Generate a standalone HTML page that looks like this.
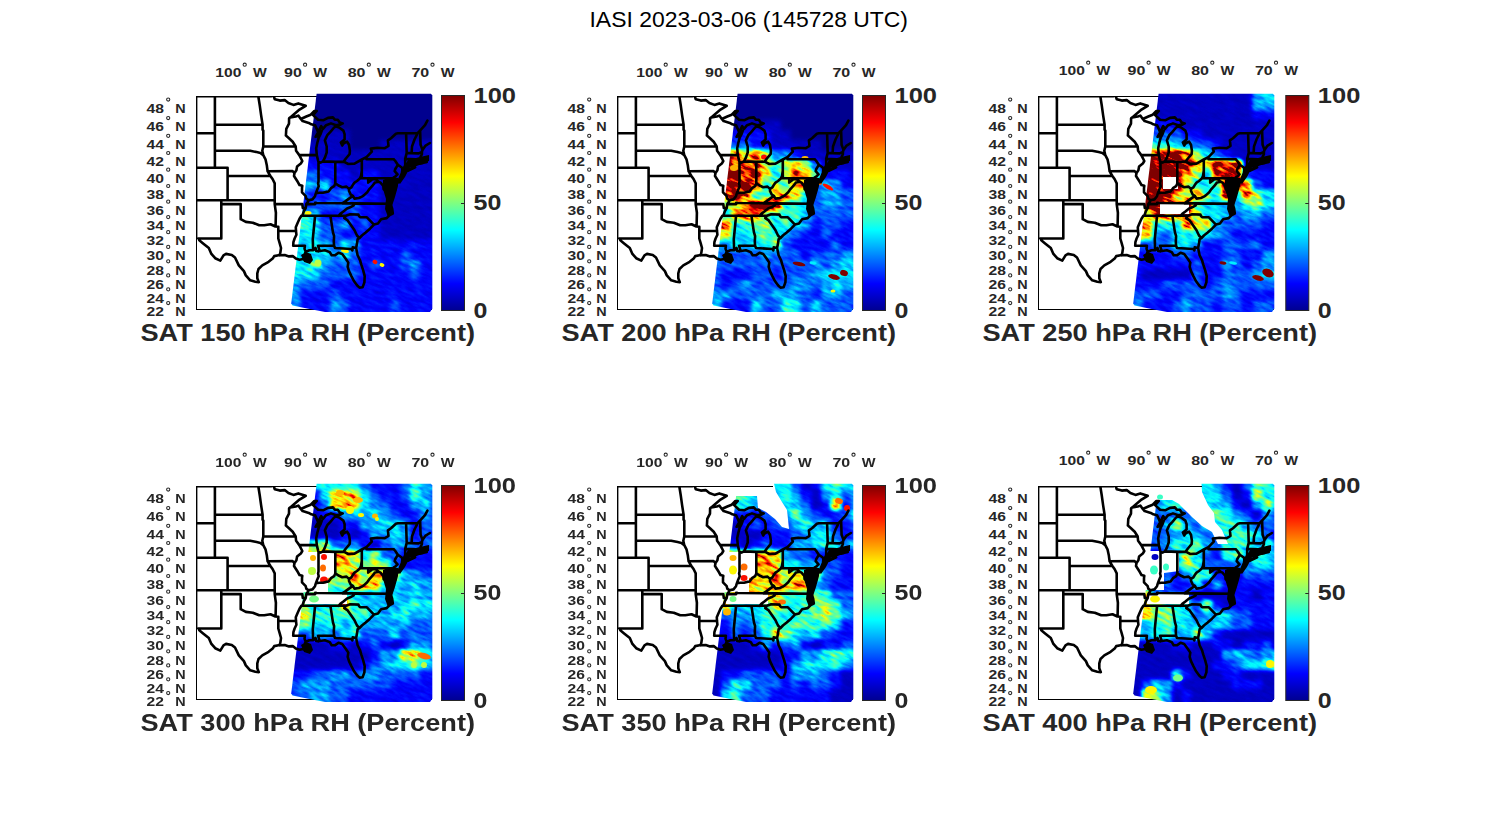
<!DOCTYPE html><html><head><meta charset="utf-8"><style>html,body{margin:0;padding:0;background:#fff;}svg{display:block;}text{font-family:"Liberation Sans",sans-serif;}</style></head><body><svg width="1500" height="825" viewBox="0 0 1500 825"><defs><linearGradient id="jet" x1="0" y1="1" x2="0" y2="0"><stop offset="0" stop-color="#000090"/><stop offset="0.125" stop-color="#0000ff"/><stop offset="0.375" stop-color="#00ffff"/><stop offset="0.625" stop-color="#ffff00"/><stop offset="0.875" stop-color="#ff0000"/><stop offset="1" stop-color="#800000"/></linearGradient><clipPath id="boxclip"><rect x="196.1" y="96.3" width="235.7" height="213"/></clipPath><filter id="jetf" x="0" y="0" width="1" height="1" color-interpolation-filters="sRGB"><feGaussianBlur in="SourceGraphic" stdDeviation="2.2" result="b"/><feTurbulence type="fractalNoise" baseFrequency="0.09 0.3" numOctaves="2" seed="7" result="t"/><feColorMatrix in="t" type="matrix" values="1 0 0 0 0 1 0 0 0 0 1 0 0 0 0 0 0 0 0 1" result="n"/><feComposite in="b" in2="n" operator="arithmetic" k1="0.9" k2="0.55" k3="0" k4="0" result="c"/><feComponentTransfer in="c"><feFuncR type="table" tableValues="0 0 0 0 0 0 0 0 0 0 0 0 0 0 0 0 0 0 0 0.02 0.1 0.18 0.26 0.34 0.42 0.5 0.58 0.66 0.74 0.82 0.9 0.98 1 1 1 1 1 1 1 1 1 1 0.98 0.82 0.66 0.5 0.5 0.5 0.5 0.5 0.5"/><feFuncG type="table" tableValues="0 0 0 0 0 0 0 0.06 0.14 0.22 0.3 0.38 0.46 0.54 0.62 0.7 0.78 0.86 0.94 1 1 1 1 1 1 1 1 1 1 1 1 1 0.94 0.86 0.78 0.7 0.62 0.54 0.46 0.38 0.3 0.14 0 0 0 0 0 0 0 0 0"/><feFuncB type="table" tableValues="0.562 0.633 0.703 0.772 0.843 0.913 0.982 1 1 1 1 1 1 1 1 1 1 1 1 0.98 0.9 0.82 0.74 0.66 0.58 0.5 0.42 0.34 0.26 0.18 0.1 0.02 0 0 0 0 0 0 0 0 0 0 0 0 0 0 0 0 0 0 0"/></feComponentTransfer></filter><filter id="jetd" color-interpolation-filters="sRGB"><feGaussianBlur stdDeviation="0.7"/><feComponentTransfer><feFuncR type="table" tableValues="0 0 0 0 0 0 0 0 0 0 0 0 0 0 0 0 0 0 0 0.02 0.1 0.18 0.26 0.34 0.42 0.5 0.58 0.66 0.74 0.82 0.9 0.98 1 1 1 1 1 1 1 1 1 1 0.98 0.82 0.66 0.5 0.5 0.5 0.5 0.5 0.5"/><feFuncG type="table" tableValues="0 0 0 0 0 0 0 0.06 0.14 0.22 0.3 0.38 0.46 0.54 0.62 0.7 0.78 0.86 0.94 1 1 1 1 1 1 1 1 1 1 1 1 1 0.94 0.86 0.78 0.7 0.62 0.54 0.46 0.38 0.3 0.14 0 0 0 0 0 0 0 0 0"/><feFuncB type="table" tableValues="0.562 0.633 0.703 0.772 0.843 0.913 0.982 1 1 1 1 1 1 1 1 1 1 1 1 0.98 0.9 0.82 0.74 0.66 0.58 0.5 0.42 0.34 0.26 0.18 0.1 0.02 0 0 0 0 0 0 0 0 0 0 0 0 0 0 0 0 0 0 0"/></feComponentTransfer></filter><g id="borders"><path d="M189.7 96.3 271.4 96.3 M271.4 96.3 271.4 94.4 273.6 95.8 274.8 99.2 279.8 100.6 284.7 100.1 288.4 103 293.4 104.9 298.3 103.4 303.2 104.9 305.7 105.8 M305.7 105.8 299.5 109.6 294 114.2 290.3 117.4 M290.3 117.4 295.8 116.5 298.3 115.6 300.8 119 M300.8 119 306.3 116.5 310.7 114.7 314.4 111 316.8 111 313.1 115.1 318.1 119.7 323.6 120.2 328 117.9 332.9 117.4 334.8 119.7 337.8 119.7 339.7 122.5 342.8 123.4 340.3 124.6 336 125.2 331 123.4 326.1 125.2 323 128.8 321.2 126.1 318.1 132.4 M318.1 132.4 316.8 128.8 315 125.2 311.3 124.3 308.8 122.9 302.6 121.1 300.8 119 M318.1 132.4 315.6 136.8 318.1 135.9 321.8 130.6 320.5 134.2 318.7 137.7 317.5 142.1 316.2 148.2 316.8 155.1 M316.8 155.1 318.1 160.6 318.5 161.9 320.5 162.6 323 161.4 M323 161.4 324.9 157.6 326.7 152.5 326.7 146.5 324.9 140.4 327.3 135.1 330.4 131.9 334.1 127.5 336 126.3 339.1 127.5 343.4 130.6 344.6 134.2 344.6 139.5 340.9 142.6 342.2 145.6 344 143 347.1 141.7 349 144.7 349.9 150.8 349.6 154.2 345.9 158.5 343.7 161.6 M343.7 161.6 335.4 161.9 323 161.4 M343.7 161.6 348.3 164 354.5 163.6 361.8 159.5 366.5 157.1 M366.5 157.1 371.8 151.7 370.9 148.6 377.4 147.8 384.8 148.2 388.5 146 387.9 140.4 391 138.2 395.9 133.7 397.8 133.3 417.6 133.2 420 130.6 425 125.2 427.4 120.6 M366.5 157.1 366.5 159.3 393.8 159.3 M361.8 159.5 361.8 178.3 M361.8 178.3 391 178.3 M393.8 159.3 395.3 161 397.8 164.8 395.3 169 394.7 171.1 397.5 174.4 395.3 176.5 393.5 177.7 392.2 179.3 392.5 180.5 393.5 182.2 395.3 185.8 395.6 188.7 M397.8 164.8 402.1 167.8 402.4 170.3 M402.1 171.9 402.1 175.2 401.5 178.1 398.4 181.8 396.2 184.8 396.5 183 392.8 180.1 M404 167.8 405.2 165.2 405.2 158.9 406.7 152.9 406.1 133.2 M405.2 158.9 415.7 159.2 418.3 159.2 M404 167.8 408.9 165.7 414.5 165.2 415.4 165.1 418.2 164 419.9 163.6 M415.4 165.1 415.7 159.2 M418.3 159.2 419.9 163.6 M419.9 163.6 422.5 163.1 426.8 161.9 423.7 161.5 423.1 159.3 420.6 156.8 421.9 154.2 421.9 151.9 M406.7 152.9 411.6 153.1 418.8 153.4 421.9 151.9 M411.6 153.1 412 146.5 414.5 139.5 417.6 133.2 M421.9 151.9 422.5 149.9 420.6 144.7 420.1 130.6 M422.5 149.9 425.6 145.6 429.9 143 M402.1 171.3 408.3 170.7 415.1 167.3 410.8 168.2 404 169 402.1 171.3 M391 178.3 391 188.6 395.6 188.7 M395.6 188.7 394.4 192.3 392.2 195.8 390.1 199.4 390.4 195.4 391 192.3 389.1 189.9 388.5 185.8 389.7 179.7 M389.7 179.7 387.3 182.6 386.7 187.4 387.9 191.9 387.9 195.8 387.6 200.2 389.7 200.8 M387.9 191.9 383.6 189.1 383.3 185.8 380.5 182.6 378.9 181.8 M378.9 181.8 375.5 179.3 372.4 179.3 368.2 182.6 368.2 178.3 M378.9 181.8 374.9 182.6 372.1 186.2 369.4 189.1 367.2 192.3 363.8 195.4 361.9 196.6 358.9 198 354.5 198.6 352.9 195.9 M352.9 195.9 349 198.6 345.3 201.4 342.3 203.3 M352.9 195.9 350.8 194.7 349 190.9 349 188.9 M361.8 170.8 361 176 359.8 178.5 357 181 354.5 182.6 353.3 184.2 351.4 187.4 349 188.9 346.5 186.6 342.2 187.2 339.1 185.8 335.3 183.4 334.1 186.2 331 188.2 328.6 191.5 326.1 191.9 323 192.7 319.3 192.7 315.9 193.1 315 196.2 312.5 199.4 308.4 200.2 M335.3 183.4 335.3 161.9 M318.5 161.9 318.5 181.4 318.1 183.4 318.7 186.2 317.1 189.9 315.9 193.1 M299.3 155.1 302.3 161 300.8 163.6 297.1 166.5 296.4 170.3 294.5 173 294 176 297.7 181.8 299.5 185 302.3 185.8 302 188.2 302 192.3 305.7 196.2 306.3 198.6 308.4 200.2 308.8 200.6 306.3 204.1 305.7 208 303.9 211.1 302.6 215 301.4 215.8 299.5 218.8 297.7 222.7 295.8 227.2 296 231 296.4 234.7 294.6 238.5 293.4 242.2 293.2 245.8 M299.3 155.1 296.1 150.8 295.7 146.5 292.7 141.7 289 138.2 285.9 135.5 M285.9 135.5 286.3 128.8 289 123.6 289.1 118.3 290.3 117.4 M299.3 155.1 316.8 155.1 M263.3 146.5 295.7 146.5 M267.6 171.3 292.6 171.1 294.5 173 M263.3 155.2 265.5 159.3 266.8 165.2 267.6 171.3 270.4 176 272.7 179.3 274.7 183.4 M263.3 146.5 262.3 150.8 263.3 155.2 M214.9 150.8 250.2 150.8 256.6 152.1 260.4 152.9 263.3 155.2 M262.6 124.8 262.6 129.7 263.3 130.6 263.3 146.5 M258.3 96.3 259.8 105.8 261.1 115.1 262.6 124.8 M214.9 124.8 262.6 124.8 M214.9 96.3 214.9 167.8 M189.7 133.3 214.9 133.3 M189.7 167.8 227.6 167.8 227.6 176 270.4 176 M227.6 176 227.6 200.2 M189.7 200.2 274.7 200.2 M221.3 200.2 221.3 238.5 198.5 238.5 M221.3 204.1 240.7 204.1 240.7 219.2 M240.7 219.2 245.8 221.9 252.8 222.7 259.2 225.3 264.3 225.3 270.5 224.2 275.4 226.5 278.3 226.8 M274.7 183.4 274.7 204.1 275.9 212.7 275.6 226.2 M278.3 226.8 278.3 231 296 231 M278.3 231 278.3 238.5 279.8 243.6 281 248 280.4 252.4 279.5 255.3 M274.7 204.1 302.3 204.1 302.8 208 305.7 208 M306.3 204.1 315.2 204.1 315.2 202.7 316.8 203 342.3 203.3 354.7 203.4 390.6 203.7 M301.4 215.8 338.5 215.8 345.9 215.8 M338.5 215.8 340.3 213.9 343.4 211.5 347.1 208.4 350.2 207.3 353.3 205.7 354.7 203.4 M314.4 215.8 315 216.5 312.8 239.2 313.1 250.2 M330.4 215.8 332.9 232.1 334.1 236.2 333.8 241.4 334.1 245.8 M318.1 251.3 319.3 249.9 318.1 245.8 334.1 245.8 M334.1 245.8 335 248 351.4 249 352.4 250.5 352.7 247.3 356.1 248 M345.9 215.8 344.3 218.1 347.7 220.4 351.4 225.7 354.5 230.2 357 235.5 359.5 238.1 M345.9 215.8 350.2 214.2 358.5 214.6 358.9 215.8 360.1 217.2 366.9 217.3 374 224.6 M293.2 245.8 304.9 245.8 304.5 248.8 305.7 251.7 M258.8 282.1 257.3 278.2 257.3 273.3 258.5 269 262.3 265.4 268.6 261.8 273 258.2 274.2 256.1 278.5 255.3 279.5 255.3 284.7 255 289 256.4 292.7 256.1 295.8 258.6 299.5 259.7 303.2 259 307 260.8 308.5 258.2 306.3 256.1 305.1 253.2 305.7 251.7 309.4 250.2 313.1 250.2 315.6 248 316.2 251 318.1 251.3 324.9 250.2 329.8 252.1 331.7 255.3 334.8 255.3 338.5 252.8 342.2 253.9 345.9 259 348.3 262.6 347.7 266.8 349 271.1 351.4 276.1 353.9 281 357 285.2 359.5 287.6 362.6 287.3 364.4 282.4 364.7 276.1 363.2 270.4 361.3 264.7 360.1 260.4 357.6 255.3 356.1 248 357 243.6 357.6 239.2 359.5 238.1 361.9 235.5 365.7 232.5 370 228.7 374 224.6 378 223.4 381.1 219.2 386.7 218.1 389.7 215 392.8 213.5 392.2 208.8 390.6 203.7 389.7 200.8 M198.5 238.5 199.3 240.3 202.5 242.9 208.8 248 211.4 253.9 215.2 258.2 220.3 260.6 223.5 255.3 226 253.9 231.8 255 235 257.5 238.8 265.4 243.9 271.1 245.8 275.4 250.2 280.3 255.3 281.7 258.8 282.1 M196.1 96.3 196.1 238.5" fill="none" stroke="#000" stroke-width="2.6" stroke-linejoin="round" stroke-linecap="round"/><path d="M383 180 L390 177 L398 178 L398 186 L395 197 L392 206 L393 214 L388 217 L385 209 L386 199 L383 189 Z M397 181 L402 170 L408 160 L420 157 L429 155 L429 161 L418 163 L410 167 L405 177 L400 184 Z M301 255 L306 252 L311 254 L313 260 L310 264 L304 262 Z" fill="#000"/></g></defs><text x="589.5" y="26.8" font-size="22" fill="#000" textLength="318.5" lengthAdjust="spacingAndGlyphs">IASI 2023-03-06 (145728 UTC)</text><g transform="translate(0,0)"><rect x="196.5" y="96.5" width="235" height="213" fill="none" stroke="#000" stroke-width="1"/><clipPath id="sw0"><path d="M316.6 93.8 L431 93.8 L432.3 95.5 L432.3 308.5 L430 311.9 L325 311.9 L301 307.3 L292.5 305.6 L291.2 303.5 Z"/></clipPath><g clip-path="url(#sw0)"><g transform="rotate(24 360 200)" filter="url(#jetf)"><g transform="rotate(-24 360 200)"><rect x="280" y="80" width="170" height="20" fill="#000000"/><rect x="280" y="100" width="170" height="10" fill="#000000"/><rect x="280" y="110" width="170" height="10" fill="#000000"/><rect x="280" y="120" width="170" height="10" fill="#000000"/><rect x="280" y="130" width="40" height="10" fill="#000000"/><rect x="320" y="130" width="30" height="10" fill="#0f0f0f"/><rect x="350" y="130" width="100" height="10" fill="#000000"/><rect x="280" y="140" width="70" height="10" fill="#0f0f0f"/><rect x="350" y="140" width="30" height="10" fill="#000000"/><rect x="380" y="140" width="70" height="10" fill="#0f0f0f"/><rect x="280" y="150" width="170" height="10" fill="#0f0f0f"/><rect x="280" y="160" width="60" height="10" fill="#212121"/><rect x="340" y="160" width="110" height="10" fill="#0f0f0f"/><rect x="280" y="170" width="40" height="10" fill="#363636"/><rect x="320" y="170" width="30" height="10" fill="#212121"/><rect x="350" y="170" width="10" height="10" fill="#0f0f0f"/><rect x="360" y="170" width="20" height="10" fill="#212121"/><rect x="380" y="170" width="70" height="10" fill="#0f0f0f"/><rect x="280" y="180" width="40" height="10" fill="#4a4a4a"/><rect x="320" y="180" width="10" height="10" fill="#5c5c5c"/><rect x="330" y="180" width="50" height="10" fill="#212121"/><rect x="380" y="180" width="70" height="10" fill="#0f0f0f"/><rect x="280" y="190" width="30" height="10" fill="#363636"/><rect x="310" y="190" width="20" height="10" fill="#212121"/><rect x="330" y="190" width="10" height="10" fill="#363636"/><rect x="340" y="190" width="10" height="10" fill="#4a4a4a"/><rect x="350" y="190" width="30" height="10" fill="#212121"/><rect x="380" y="190" width="70" height="10" fill="#0f0f0f"/><rect x="280" y="200" width="30" height="10" fill="#212121"/><rect x="310" y="200" width="50" height="10" fill="#363636"/><rect x="360" y="200" width="20" height="10" fill="#212121"/><rect x="380" y="200" width="70" height="10" fill="#0f0f0f"/><rect x="280" y="210" width="30" height="10" fill="#6e6e6e"/><rect x="310" y="210" width="10" height="10" fill="#4a4a4a"/><rect x="320" y="210" width="30" height="10" fill="#212121"/><rect x="350" y="210" width="10" height="10" fill="#363636"/><rect x="360" y="210" width="20" height="10" fill="#212121"/><rect x="380" y="210" width="70" height="10" fill="#0f0f0f"/><rect x="280" y="220" width="30" height="10" fill="#6e6e6e"/><rect x="310" y="220" width="10" height="10" fill="#5c5c5c"/><rect x="320" y="220" width="20" height="10" fill="#363636"/><rect x="340" y="220" width="10" height="10" fill="#4a4a4a"/><rect x="350" y="220" width="10" height="10" fill="#212121"/><rect x="360" y="220" width="10" height="10" fill="#363636"/><rect x="370" y="220" width="10" height="10" fill="#212121"/><rect x="380" y="220" width="70" height="10" fill="#0f0f0f"/><rect x="280" y="230" width="40" height="10" fill="#5c5c5c"/><rect x="320" y="230" width="20" height="10" fill="#363636"/><rect x="340" y="230" width="40" height="10" fill="#212121"/><rect x="380" y="230" width="70" height="10" fill="#0f0f0f"/><rect x="280" y="240" width="40" height="10" fill="#5c5c5c"/><rect x="320" y="240" width="10" height="10" fill="#4a4a4a"/><rect x="330" y="240" width="10" height="10" fill="#363636"/><rect x="340" y="240" width="10" height="10" fill="#5c5c5c"/><rect x="350" y="240" width="10" height="10" fill="#4a4a4a"/><rect x="360" y="240" width="90" height="10" fill="#212121"/><rect x="280" y="250" width="50" height="10" fill="#5c5c5c"/><rect x="330" y="250" width="10" height="10" fill="#4a4a4a"/><rect x="340" y="250" width="10" height="10" fill="#5c5c5c"/><rect x="350" y="250" width="10" height="10" fill="#363636"/><rect x="360" y="250" width="40" height="10" fill="#212121"/><rect x="400" y="250" width="10" height="10" fill="#363636"/><rect x="410" y="250" width="40" height="10" fill="#212121"/><rect x="280" y="260" width="30" height="10" fill="#5c5c5c"/><rect x="310" y="260" width="10" height="10" fill="#7d7d7d"/><rect x="320" y="260" width="10" height="10" fill="#4a4a4a"/><rect x="330" y="260" width="30" height="10" fill="#363636"/><rect x="360" y="260" width="10" height="10" fill="#212121"/><rect x="370" y="260" width="10" height="10" fill="#363636"/><rect x="380" y="260" width="20" height="10" fill="#212121"/><rect x="400" y="260" width="10" height="10" fill="#363636"/><rect x="410" y="260" width="10" height="10" fill="#4a4a4a"/><rect x="420" y="260" width="30" height="10" fill="#212121"/><rect x="280" y="270" width="40" height="10" fill="#5c5c5c"/><rect x="320" y="270" width="40" height="10" fill="#363636"/><rect x="360" y="270" width="50" height="10" fill="#212121"/><rect x="410" y="270" width="10" height="10" fill="#363636"/><rect x="420" y="270" width="30" height="10" fill="#212121"/><rect x="280" y="280" width="20" height="10" fill="#4a4a4a"/><rect x="300" y="280" width="30" height="10" fill="#363636"/><rect x="330" y="280" width="120" height="10" fill="#212121"/><rect x="280" y="290" width="20" height="10" fill="#4a4a4a"/><rect x="300" y="290" width="30" height="10" fill="#212121"/><rect x="330" y="290" width="10" height="10" fill="#363636"/><rect x="340" y="290" width="110" height="10" fill="#212121"/><rect x="280" y="300" width="20" height="10" fill="#4a4a4a"/><rect x="300" y="300" width="30" height="10" fill="#212121"/><rect x="330" y="300" width="10" height="10" fill="#4a4a4a"/><rect x="340" y="300" width="10" height="10" fill="#363636"/><rect x="350" y="300" width="40" height="10" fill="#212121"/><rect x="390" y="300" width="10" height="10" fill="#363636"/><rect x="400" y="300" width="50" height="10" fill="#212121"/><rect x="280" y="310" width="20" height="20" fill="#4a4a4a"/><rect x="300" y="310" width="30" height="20" fill="#212121"/><rect x="330" y="310" width="10" height="20" fill="#4a4a4a"/><rect x="340" y="310" width="10" height="20" fill="#363636"/><rect x="350" y="310" width="40" height="20" fill="#212121"/><rect x="390" y="310" width="10" height="20" fill="#363636"/><rect x="400" y="310" width="50" height="20" fill="#212121"/></g></g></g><g clip-path="url(#sw0)"><g filter="url(#jetd)"><ellipse cx="375" cy="262" rx="2.5" ry="2" fill="#d4d4d4" transform="rotate(20 375 262)"/><ellipse cx="382" cy="265" rx="2.5" ry="1.8" fill="#a1a1a1" transform="rotate(20 382 265)"/><ellipse cx="318" cy="263" rx="3.5" ry="3.5" fill="#8f8f8f"/><ellipse cx="308" cy="213" rx="3.5" ry="2" fill="#a1a1a1"/><ellipse cx="345" cy="251" rx="4" ry="1.8" fill="#a1a1a1" transform="rotate(10 345 251)"/></g></g><g clip-path="url(#boxclip)"><use href="#borders"/></g><text x="241.4" y="77" font-size="13.6" font-weight="bold" fill="#262626" text-anchor="end" textLength="26.1" lengthAdjust="spacingAndGlyphs">100</text><circle cx="244.7" cy="64.7" r="1.6" fill="none" stroke="#262626" stroke-width="1.05"/><text x="252.9" y="77" font-size="13.6" font-weight="bold" fill="#262626" textLength="13.8" lengthAdjust="spacingAndGlyphs">W</text><text x="301.8" y="77" font-size="13.6" font-weight="bold" fill="#262626" text-anchor="end" textLength="17.8" lengthAdjust="spacingAndGlyphs">90</text><circle cx="305.1" cy="64.7" r="1.6" fill="none" stroke="#262626" stroke-width="1.05"/><text x="313.3" y="77" font-size="13.6" font-weight="bold" fill="#262626" textLength="13.8" lengthAdjust="spacingAndGlyphs">W</text><text x="365.5" y="77" font-size="13.6" font-weight="bold" fill="#262626" text-anchor="end" textLength="17.8" lengthAdjust="spacingAndGlyphs">80</text><circle cx="368.8" cy="64.7" r="1.6" fill="none" stroke="#262626" stroke-width="1.05"/><text x="377" y="77" font-size="13.6" font-weight="bold" fill="#262626" textLength="13.8" lengthAdjust="spacingAndGlyphs">W</text><text x="429.2" y="77" font-size="13.6" font-weight="bold" fill="#262626" text-anchor="end" textLength="17.8" lengthAdjust="spacingAndGlyphs">70</text><circle cx="432.5" cy="64.7" r="1.6" fill="none" stroke="#262626" stroke-width="1.05"/><text x="440.7" y="77" font-size="13.6" font-weight="bold" fill="#262626" textLength="13.8" lengthAdjust="spacingAndGlyphs">W</text><text x="164" y="112.7" font-size="13.2" font-weight="bold" fill="#262626" text-anchor="end" textLength="17.4" lengthAdjust="spacingAndGlyphs">48</text><circle cx="168.2" cy="99.5" r="1.6" fill="none" stroke="#262626" stroke-width="1.05"/><text x="175.3" y="112.7" font-size="13.2" font-weight="bold" fill="#262626" textLength="10.4" lengthAdjust="spacingAndGlyphs">N</text><text x="164" y="131.2" font-size="13.2" font-weight="bold" fill="#262626" text-anchor="end" textLength="17.4" lengthAdjust="spacingAndGlyphs">46</text><circle cx="168.2" cy="118" r="1.6" fill="none" stroke="#262626" stroke-width="1.05"/><text x="175.3" y="131.2" font-size="13.2" font-weight="bold" fill="#262626" textLength="10.4" lengthAdjust="spacingAndGlyphs">N</text><text x="164" y="149" font-size="13.2" font-weight="bold" fill="#262626" text-anchor="end" textLength="17.4" lengthAdjust="spacingAndGlyphs">44</text><circle cx="168.2" cy="135.8" r="1.6" fill="none" stroke="#262626" stroke-width="1.05"/><text x="175.3" y="149" font-size="13.2" font-weight="bold" fill="#262626" textLength="10.4" lengthAdjust="spacingAndGlyphs">N</text><text x="164" y="166.2" font-size="13.2" font-weight="bold" fill="#262626" text-anchor="end" textLength="17.4" lengthAdjust="spacingAndGlyphs">42</text><circle cx="168.2" cy="153" r="1.6" fill="none" stroke="#262626" stroke-width="1.05"/><text x="175.3" y="166.2" font-size="13.2" font-weight="bold" fill="#262626" textLength="10.4" lengthAdjust="spacingAndGlyphs">N</text><text x="164" y="182.9" font-size="13.2" font-weight="bold" fill="#262626" text-anchor="end" textLength="17.4" lengthAdjust="spacingAndGlyphs">40</text><circle cx="168.2" cy="169.7" r="1.6" fill="none" stroke="#262626" stroke-width="1.05"/><text x="175.3" y="182.9" font-size="13.2" font-weight="bold" fill="#262626" textLength="10.4" lengthAdjust="spacingAndGlyphs">N</text><text x="164" y="199.2" font-size="13.2" font-weight="bold" fill="#262626" text-anchor="end" textLength="17.4" lengthAdjust="spacingAndGlyphs">38</text><circle cx="168.2" cy="186" r="1.6" fill="none" stroke="#262626" stroke-width="1.05"/><text x="175.3" y="199.2" font-size="13.2" font-weight="bold" fill="#262626" textLength="10.4" lengthAdjust="spacingAndGlyphs">N</text><text x="164" y="214.9" font-size="13.2" font-weight="bold" fill="#262626" text-anchor="end" textLength="17.4" lengthAdjust="spacingAndGlyphs">36</text><circle cx="168.2" cy="201.7" r="1.6" fill="none" stroke="#262626" stroke-width="1.05"/><text x="175.3" y="214.9" font-size="13.2" font-weight="bold" fill="#262626" textLength="10.4" lengthAdjust="spacingAndGlyphs">N</text><text x="164" y="230.3" font-size="13.2" font-weight="bold" fill="#262626" text-anchor="end" textLength="17.4" lengthAdjust="spacingAndGlyphs">34</text><circle cx="168.2" cy="217.1" r="1.6" fill="none" stroke="#262626" stroke-width="1.05"/><text x="175.3" y="230.3" font-size="13.2" font-weight="bold" fill="#262626" textLength="10.4" lengthAdjust="spacingAndGlyphs">N</text><text x="164" y="245.4" font-size="13.2" font-weight="bold" fill="#262626" text-anchor="end" textLength="17.4" lengthAdjust="spacingAndGlyphs">32</text><circle cx="168.2" cy="232.2" r="1.6" fill="none" stroke="#262626" stroke-width="1.05"/><text x="175.3" y="245.4" font-size="13.2" font-weight="bold" fill="#262626" textLength="10.4" lengthAdjust="spacingAndGlyphs">N</text><text x="164" y="260.1" font-size="13.2" font-weight="bold" fill="#262626" text-anchor="end" textLength="17.4" lengthAdjust="spacingAndGlyphs">30</text><circle cx="168.2" cy="246.9" r="1.6" fill="none" stroke="#262626" stroke-width="1.05"/><text x="175.3" y="260.1" font-size="13.2" font-weight="bold" fill="#262626" textLength="10.4" lengthAdjust="spacingAndGlyphs">N</text><text x="164" y="274.5" font-size="13.2" font-weight="bold" fill="#262626" text-anchor="end" textLength="17.4" lengthAdjust="spacingAndGlyphs">28</text><circle cx="168.2" cy="261.3" r="1.6" fill="none" stroke="#262626" stroke-width="1.05"/><text x="175.3" y="274.5" font-size="13.2" font-weight="bold" fill="#262626" textLength="10.4" lengthAdjust="spacingAndGlyphs">N</text><text x="164" y="288.6" font-size="13.2" font-weight="bold" fill="#262626" text-anchor="end" textLength="17.4" lengthAdjust="spacingAndGlyphs">26</text><circle cx="168.2" cy="275.4" r="1.6" fill="none" stroke="#262626" stroke-width="1.05"/><text x="175.3" y="288.6" font-size="13.2" font-weight="bold" fill="#262626" textLength="10.4" lengthAdjust="spacingAndGlyphs">N</text><text x="164" y="302.5" font-size="13.2" font-weight="bold" fill="#262626" text-anchor="end" textLength="17.4" lengthAdjust="spacingAndGlyphs">24</text><circle cx="168.2" cy="289.3" r="1.6" fill="none" stroke="#262626" stroke-width="1.05"/><text x="175.3" y="302.5" font-size="13.2" font-weight="bold" fill="#262626" textLength="10.4" lengthAdjust="spacingAndGlyphs">N</text><text x="164" y="316.2" font-size="13.2" font-weight="bold" fill="#262626" text-anchor="end" textLength="17.4" lengthAdjust="spacingAndGlyphs">22</text><circle cx="168.2" cy="303" r="1.6" fill="none" stroke="#262626" stroke-width="1.05"/><text x="175.3" y="316.2" font-size="13.2" font-weight="bold" fill="#262626" textLength="10.4" lengthAdjust="spacingAndGlyphs">N</text><g transform="translate(0,0)"><rect x="441.5" y="95.5" width="23" height="215" fill="url(#jet)" stroke="#262626" stroke-width="1"/><line x1="461" y1="95.5" x2="464.5" y2="95.5" stroke="#262626" stroke-width="1"/><line x1="461" y1="203.5" x2="464.5" y2="203.5" stroke="#262626" stroke-width="1"/><line x1="461" y1="310.5" x2="464.5" y2="310.5" stroke="#262626" stroke-width="1"/><text x="473.5" y="102.9" font-size="21.5" font-weight="bold" fill="#262626" textLength="42.5" lengthAdjust="spacingAndGlyphs">100</text><text x="473.5" y="210.2" font-size="21.5" font-weight="bold" fill="#262626" textLength="27.8" lengthAdjust="spacingAndGlyphs">50</text><text x="473.5" y="318" font-size="21.5" font-weight="bold" fill="#262626" textLength="13.9" lengthAdjust="spacingAndGlyphs">0</text></g><text x="140.5" y="340.9" font-size="23.5" font-weight="bold" fill="#262626" textLength="334.5" lengthAdjust="spacingAndGlyphs">SAT 150 hPa RH (Percent)</text></g><g transform="translate(421,0)"><rect x="196.5" y="96.5" width="235" height="213" fill="none" stroke="#000" stroke-width="1"/><clipPath id="sw1"><path d="M316.6 93.8 L431 93.8 L432.3 95.5 L432.3 308.5 L430 311.9 L325 311.9 L301 307.3 L292.5 305.6 L291.2 303.5 Z"/></clipPath><g clip-path="url(#sw1)"><g transform="rotate(24 360 200)" filter="url(#jetf)"><g transform="rotate(-24 360 200)"><rect x="280" y="80" width="170" height="20" fill="#000000"/><rect x="280" y="100" width="170" height="10" fill="#000000"/><rect x="280" y="110" width="170" height="10" fill="#000000"/><rect x="280" y="120" width="40" height="10" fill="#000000"/><rect x="320" y="120" width="40" height="10" fill="#0f0f0f"/><rect x="360" y="120" width="90" height="10" fill="#000000"/><rect x="280" y="130" width="70" height="10" fill="#212121"/><rect x="350" y="130" width="20" height="10" fill="#0f0f0f"/><rect x="370" y="130" width="80" height="10" fill="#000000"/><rect x="280" y="140" width="50" height="10" fill="#363636"/><rect x="330" y="140" width="20" height="10" fill="#212121"/><rect x="350" y="140" width="50" height="10" fill="#0f0f0f"/><rect x="400" y="140" width="50" height="10" fill="#000000"/><rect x="280" y="150" width="40" height="10" fill="#c4c4c4"/><rect x="320" y="150" width="10" height="10" fill="#a1a1a1"/><rect x="330" y="150" width="10" height="10" fill="#d4d4d4"/><rect x="340" y="150" width="10" height="10" fill="#8f8f8f"/><rect x="350" y="150" width="20" height="10" fill="#4a4a4a"/><rect x="370" y="150" width="10" height="10" fill="#212121"/><rect x="380" y="150" width="70" height="10" fill="#0f0f0f"/><rect x="280" y="160" width="30" height="10" fill="#ffffff"/><rect x="310" y="160" width="30" height="10" fill="#d4d4d4"/><rect x="340" y="160" width="10" height="10" fill="#a1a1a1"/><rect x="350" y="160" width="10" height="10" fill="#6e6e6e"/><rect x="360" y="160" width="10" height="10" fill="#8f8f8f"/><rect x="370" y="160" width="10" height="10" fill="#b2b2b2"/><rect x="380" y="160" width="10" height="10" fill="#8f8f8f"/><rect x="390" y="160" width="10" height="10" fill="#363636"/><rect x="400" y="160" width="50" height="10" fill="#0f0f0f"/><rect x="280" y="170" width="40" height="10" fill="#ffffff"/><rect x="320" y="170" width="10" height="10" fill="#d4d4d4"/><rect x="330" y="170" width="10" height="10" fill="#ffffff"/><rect x="340" y="170" width="10" height="10" fill="#a1a1a1"/><rect x="350" y="170" width="10" height="10" fill="#5c5c5c"/><rect x="360" y="170" width="10" height="10" fill="#8f8f8f"/><rect x="370" y="170" width="10" height="10" fill="#d4d4d4"/><rect x="380" y="170" width="10" height="10" fill="#c4c4c4"/><rect x="390" y="170" width="10" height="10" fill="#6e6e6e"/><rect x="400" y="170" width="30" height="10" fill="#212121"/><rect x="430" y="170" width="20" height="10" fill="#0f0f0f"/><rect x="280" y="180" width="30" height="10" fill="#d4d4d4"/><rect x="310" y="180" width="20" height="10" fill="#ffffff"/><rect x="330" y="180" width="10" height="10" fill="#d4d4d4"/><rect x="340" y="180" width="10" height="10" fill="#6e6e6e"/><rect x="350" y="180" width="10" height="10" fill="#8f8f8f"/><rect x="360" y="180" width="10" height="10" fill="#6e6e6e"/><rect x="370" y="180" width="10" height="10" fill="#b2b2b2"/><rect x="380" y="180" width="10" height="10" fill="#d4d4d4"/><rect x="390" y="180" width="10" height="10" fill="#363636"/><rect x="400" y="180" width="20" height="10" fill="#4a4a4a"/><rect x="420" y="180" width="30" height="10" fill="#212121"/><rect x="280" y="190" width="30" height="10" fill="#d4d4d4"/><rect x="310" y="190" width="10" height="10" fill="#ffffff"/><rect x="320" y="190" width="10" height="10" fill="#d4d4d4"/><rect x="330" y="190" width="20" height="10" fill="#6e6e6e"/><rect x="350" y="190" width="10" height="10" fill="#b2b2b2"/><rect x="360" y="190" width="10" height="10" fill="#c4c4c4"/><rect x="370" y="190" width="10" height="10" fill="#a1a1a1"/><rect x="380" y="190" width="10" height="10" fill="#5c5c5c"/><rect x="390" y="190" width="10" height="10" fill="#363636"/><rect x="400" y="190" width="20" height="10" fill="#4a4a4a"/><rect x="420" y="190" width="30" height="10" fill="#363636"/><rect x="280" y="200" width="30" height="10" fill="#7d7d7d"/><rect x="310" y="200" width="10" height="10" fill="#a1a1a1"/><rect x="320" y="200" width="10" height="10" fill="#c4c4c4"/><rect x="330" y="200" width="30" height="10" fill="#ffffff"/><rect x="360" y="200" width="20" height="10" fill="#6e6e6e"/><rect x="380" y="200" width="10" height="10" fill="#5c5c5c"/><rect x="390" y="200" width="10" height="10" fill="#363636"/><rect x="400" y="200" width="20" height="10" fill="#4a4a4a"/><rect x="420" y="200" width="30" height="10" fill="#363636"/><rect x="280" y="210" width="30" height="10" fill="#5c5c5c"/><rect x="310" y="210" width="10" height="10" fill="#b2b2b2"/><rect x="320" y="210" width="20" height="10" fill="#d4d4d4"/><rect x="340" y="210" width="10" height="10" fill="#7d7d7d"/><rect x="350" y="210" width="30" height="10" fill="#6e6e6e"/><rect x="380" y="210" width="10" height="10" fill="#4a4a4a"/><rect x="390" y="210" width="60" height="10" fill="#363636"/><rect x="280" y="220" width="30" height="10" fill="#d4d4d4"/><rect x="310" y="220" width="10" height="10" fill="#5c5c5c"/><rect x="320" y="220" width="10" height="10" fill="#6e6e6e"/><rect x="330" y="220" width="10" height="10" fill="#7d7d7d"/><rect x="340" y="220" width="10" height="10" fill="#8f8f8f"/><rect x="350" y="220" width="10" height="10" fill="#5c5c5c"/><rect x="360" y="220" width="10" height="10" fill="#6e6e6e"/><rect x="370" y="220" width="10" height="10" fill="#5c5c5c"/><rect x="380" y="220" width="10" height="10" fill="#4a4a4a"/><rect x="390" y="220" width="10" height="10" fill="#212121"/><rect x="400" y="220" width="20" height="10" fill="#363636"/><rect x="420" y="220" width="30" height="10" fill="#212121"/><rect x="280" y="230" width="30" height="10" fill="#a1a1a1"/><rect x="310" y="230" width="20" height="10" fill="#5c5c5c"/><rect x="330" y="230" width="10" height="10" fill="#6e6e6e"/><rect x="340" y="230" width="10" height="10" fill="#7d7d7d"/><rect x="350" y="230" width="10" height="10" fill="#5c5c5c"/><rect x="360" y="230" width="10" height="10" fill="#4a4a4a"/><rect x="370" y="230" width="10" height="10" fill="#363636"/><rect x="380" y="230" width="20" height="10" fill="#212121"/><rect x="400" y="230" width="10" height="10" fill="#363636"/><rect x="410" y="230" width="40" height="10" fill="#212121"/><rect x="280" y="240" width="30" height="10" fill="#4a4a4a"/><rect x="310" y="240" width="10" height="10" fill="#5c5c5c"/><rect x="320" y="240" width="10" height="10" fill="#4a4a4a"/><rect x="330" y="240" width="20" height="10" fill="#5c5c5c"/><rect x="350" y="240" width="10" height="10" fill="#8f8f8f"/><rect x="360" y="240" width="10" height="10" fill="#363636"/><rect x="370" y="240" width="40" height="10" fill="#212121"/><rect x="410" y="240" width="10" height="10" fill="#363636"/><rect x="420" y="240" width="30" height="10" fill="#212121"/><rect x="280" y="250" width="20" height="10" fill="#4a4a4a"/><rect x="300" y="250" width="40" height="10" fill="#363636"/><rect x="340" y="250" width="10" height="10" fill="#4a4a4a"/><rect x="350" y="250" width="30" height="10" fill="#363636"/><rect x="380" y="250" width="10" height="10" fill="#212121"/><rect x="390" y="250" width="30" height="10" fill="#363636"/><rect x="420" y="250" width="30" height="10" fill="#4a4a4a"/><rect x="280" y="260" width="110" height="10" fill="#363636"/><rect x="390" y="260" width="10" height="10" fill="#4a4a4a"/><rect x="400" y="260" width="10" height="10" fill="#363636"/><rect x="410" y="260" width="10" height="10" fill="#4a4a4a"/><rect x="420" y="260" width="30" height="10" fill="#5c5c5c"/><rect x="280" y="270" width="20" height="10" fill="#363636"/><rect x="300" y="270" width="30" height="10" fill="#212121"/><rect x="330" y="270" width="20" height="10" fill="#363636"/><rect x="350" y="270" width="10" height="10" fill="#212121"/><rect x="360" y="270" width="30" height="10" fill="#363636"/><rect x="390" y="270" width="10" height="10" fill="#4a4a4a"/><rect x="400" y="270" width="50" height="10" fill="#5c5c5c"/><rect x="280" y="280" width="20" height="10" fill="#363636"/><rect x="300" y="280" width="10" height="10" fill="#212121"/><rect x="310" y="280" width="10" height="10" fill="#363636"/><rect x="320" y="280" width="10" height="10" fill="#4a4a4a"/><rect x="330" y="280" width="40" height="10" fill="#363636"/><rect x="370" y="280" width="20" height="10" fill="#4a4a4a"/><rect x="390" y="280" width="10" height="10" fill="#363636"/><rect x="400" y="280" width="10" height="10" fill="#4a4a4a"/><rect x="410" y="280" width="10" height="10" fill="#5c5c5c"/><rect x="420" y="280" width="30" height="10" fill="#4a4a4a"/><rect x="280" y="290" width="30" height="10" fill="#4a4a4a"/><rect x="310" y="290" width="40" height="10" fill="#363636"/><rect x="350" y="290" width="30" height="10" fill="#4a4a4a"/><rect x="380" y="290" width="10" height="10" fill="#363636"/><rect x="390" y="290" width="10" height="10" fill="#212121"/><rect x="400" y="290" width="20" height="10" fill="#4a4a4a"/><rect x="420" y="290" width="30" height="10" fill="#363636"/><rect x="280" y="300" width="20" height="10" fill="#5c5c5c"/><rect x="300" y="300" width="30" height="10" fill="#212121"/><rect x="330" y="300" width="10" height="10" fill="#5c5c5c"/><rect x="340" y="300" width="20" height="10" fill="#363636"/><rect x="360" y="300" width="10" height="10" fill="#6e6e6e"/><rect x="370" y="300" width="10" height="10" fill="#5c5c5c"/><rect x="380" y="300" width="10" height="10" fill="#363636"/><rect x="390" y="300" width="10" height="10" fill="#5c5c5c"/><rect x="400" y="300" width="50" height="10" fill="#363636"/><rect x="280" y="310" width="20" height="20" fill="#5c5c5c"/><rect x="300" y="310" width="30" height="20" fill="#212121"/><rect x="330" y="310" width="10" height="20" fill="#5c5c5c"/><rect x="340" y="310" width="20" height="20" fill="#363636"/><rect x="360" y="310" width="10" height="20" fill="#6e6e6e"/><rect x="370" y="310" width="10" height="20" fill="#5c5c5c"/><rect x="380" y="310" width="10" height="20" fill="#363636"/><rect x="390" y="310" width="10" height="20" fill="#5c5c5c"/><rect x="400" y="310" width="50" height="20" fill="#363636"/></g></g></g><g clip-path="url(#sw1)"><g filter="url(#jetd)"><ellipse cx="378" cy="264" rx="6.5" ry="2" fill="#ffffff" transform="rotate(10 378 264)"/><ellipse cx="392" cy="263" rx="3.5" ry="1.5" fill="#5c5c5c" transform="rotate(10 392 263)"/><ellipse cx="423" cy="273" rx="4" ry="3" fill="#ffffff" transform="rotate(20 423 273)"/><ellipse cx="413" cy="277" rx="6" ry="2.5" fill="#ffffff" transform="rotate(15 413 277)"/><ellipse cx="412" cy="291" rx="2.5" ry="1.5" fill="#a1a1a1"/><ellipse cx="313" cy="168" rx="4" ry="3" fill="#b2b2b2"/><ellipse cx="343" cy="157" rx="3" ry="2.5" fill="#d4d4d4"/><ellipse cx="384" cy="158" rx="3.5" ry="2" fill="#b2b2b2"/><ellipse cx="407" cy="187" rx="6" ry="2" fill="#d4d4d4" transform="rotate(30 407 187)"/><ellipse cx="398" cy="183" rx="3" ry="2" fill="#c4c4c4"/></g></g><g clip-path="url(#boxclip)"><use href="#borders"/></g><text x="241.4" y="77" font-size="13.6" font-weight="bold" fill="#262626" text-anchor="end" textLength="26.1" lengthAdjust="spacingAndGlyphs">100</text><circle cx="244.7" cy="64.7" r="1.6" fill="none" stroke="#262626" stroke-width="1.05"/><text x="252.9" y="77" font-size="13.6" font-weight="bold" fill="#262626" textLength="13.8" lengthAdjust="spacingAndGlyphs">W</text><text x="301.8" y="77" font-size="13.6" font-weight="bold" fill="#262626" text-anchor="end" textLength="17.8" lengthAdjust="spacingAndGlyphs">90</text><circle cx="305.1" cy="64.7" r="1.6" fill="none" stroke="#262626" stroke-width="1.05"/><text x="313.3" y="77" font-size="13.6" font-weight="bold" fill="#262626" textLength="13.8" lengthAdjust="spacingAndGlyphs">W</text><text x="365.5" y="77" font-size="13.6" font-weight="bold" fill="#262626" text-anchor="end" textLength="17.8" lengthAdjust="spacingAndGlyphs">80</text><circle cx="368.8" cy="64.7" r="1.6" fill="none" stroke="#262626" stroke-width="1.05"/><text x="377" y="77" font-size="13.6" font-weight="bold" fill="#262626" textLength="13.8" lengthAdjust="spacingAndGlyphs">W</text><text x="429.2" y="77" font-size="13.6" font-weight="bold" fill="#262626" text-anchor="end" textLength="17.8" lengthAdjust="spacingAndGlyphs">70</text><circle cx="432.5" cy="64.7" r="1.6" fill="none" stroke="#262626" stroke-width="1.05"/><text x="440.7" y="77" font-size="13.6" font-weight="bold" fill="#262626" textLength="13.8" lengthAdjust="spacingAndGlyphs">W</text><text x="164" y="112.7" font-size="13.2" font-weight="bold" fill="#262626" text-anchor="end" textLength="17.4" lengthAdjust="spacingAndGlyphs">48</text><circle cx="168.2" cy="99.5" r="1.6" fill="none" stroke="#262626" stroke-width="1.05"/><text x="175.3" y="112.7" font-size="13.2" font-weight="bold" fill="#262626" textLength="10.4" lengthAdjust="spacingAndGlyphs">N</text><text x="164" y="131.2" font-size="13.2" font-weight="bold" fill="#262626" text-anchor="end" textLength="17.4" lengthAdjust="spacingAndGlyphs">46</text><circle cx="168.2" cy="118" r="1.6" fill="none" stroke="#262626" stroke-width="1.05"/><text x="175.3" y="131.2" font-size="13.2" font-weight="bold" fill="#262626" textLength="10.4" lengthAdjust="spacingAndGlyphs">N</text><text x="164" y="149" font-size="13.2" font-weight="bold" fill="#262626" text-anchor="end" textLength="17.4" lengthAdjust="spacingAndGlyphs">44</text><circle cx="168.2" cy="135.8" r="1.6" fill="none" stroke="#262626" stroke-width="1.05"/><text x="175.3" y="149" font-size="13.2" font-weight="bold" fill="#262626" textLength="10.4" lengthAdjust="spacingAndGlyphs">N</text><text x="164" y="166.2" font-size="13.2" font-weight="bold" fill="#262626" text-anchor="end" textLength="17.4" lengthAdjust="spacingAndGlyphs">42</text><circle cx="168.2" cy="153" r="1.6" fill="none" stroke="#262626" stroke-width="1.05"/><text x="175.3" y="166.2" font-size="13.2" font-weight="bold" fill="#262626" textLength="10.4" lengthAdjust="spacingAndGlyphs">N</text><text x="164" y="182.9" font-size="13.2" font-weight="bold" fill="#262626" text-anchor="end" textLength="17.4" lengthAdjust="spacingAndGlyphs">40</text><circle cx="168.2" cy="169.7" r="1.6" fill="none" stroke="#262626" stroke-width="1.05"/><text x="175.3" y="182.9" font-size="13.2" font-weight="bold" fill="#262626" textLength="10.4" lengthAdjust="spacingAndGlyphs">N</text><text x="164" y="199.2" font-size="13.2" font-weight="bold" fill="#262626" text-anchor="end" textLength="17.4" lengthAdjust="spacingAndGlyphs">38</text><circle cx="168.2" cy="186" r="1.6" fill="none" stroke="#262626" stroke-width="1.05"/><text x="175.3" y="199.2" font-size="13.2" font-weight="bold" fill="#262626" textLength="10.4" lengthAdjust="spacingAndGlyphs">N</text><text x="164" y="214.9" font-size="13.2" font-weight="bold" fill="#262626" text-anchor="end" textLength="17.4" lengthAdjust="spacingAndGlyphs">36</text><circle cx="168.2" cy="201.7" r="1.6" fill="none" stroke="#262626" stroke-width="1.05"/><text x="175.3" y="214.9" font-size="13.2" font-weight="bold" fill="#262626" textLength="10.4" lengthAdjust="spacingAndGlyphs">N</text><text x="164" y="230.3" font-size="13.2" font-weight="bold" fill="#262626" text-anchor="end" textLength="17.4" lengthAdjust="spacingAndGlyphs">34</text><circle cx="168.2" cy="217.1" r="1.6" fill="none" stroke="#262626" stroke-width="1.05"/><text x="175.3" y="230.3" font-size="13.2" font-weight="bold" fill="#262626" textLength="10.4" lengthAdjust="spacingAndGlyphs">N</text><text x="164" y="245.4" font-size="13.2" font-weight="bold" fill="#262626" text-anchor="end" textLength="17.4" lengthAdjust="spacingAndGlyphs">32</text><circle cx="168.2" cy="232.2" r="1.6" fill="none" stroke="#262626" stroke-width="1.05"/><text x="175.3" y="245.4" font-size="13.2" font-weight="bold" fill="#262626" textLength="10.4" lengthAdjust="spacingAndGlyphs">N</text><text x="164" y="260.1" font-size="13.2" font-weight="bold" fill="#262626" text-anchor="end" textLength="17.4" lengthAdjust="spacingAndGlyphs">30</text><circle cx="168.2" cy="246.9" r="1.6" fill="none" stroke="#262626" stroke-width="1.05"/><text x="175.3" y="260.1" font-size="13.2" font-weight="bold" fill="#262626" textLength="10.4" lengthAdjust="spacingAndGlyphs">N</text><text x="164" y="274.5" font-size="13.2" font-weight="bold" fill="#262626" text-anchor="end" textLength="17.4" lengthAdjust="spacingAndGlyphs">28</text><circle cx="168.2" cy="261.3" r="1.6" fill="none" stroke="#262626" stroke-width="1.05"/><text x="175.3" y="274.5" font-size="13.2" font-weight="bold" fill="#262626" textLength="10.4" lengthAdjust="spacingAndGlyphs">N</text><text x="164" y="288.6" font-size="13.2" font-weight="bold" fill="#262626" text-anchor="end" textLength="17.4" lengthAdjust="spacingAndGlyphs">26</text><circle cx="168.2" cy="275.4" r="1.6" fill="none" stroke="#262626" stroke-width="1.05"/><text x="175.3" y="288.6" font-size="13.2" font-weight="bold" fill="#262626" textLength="10.4" lengthAdjust="spacingAndGlyphs">N</text><text x="164" y="302.5" font-size="13.2" font-weight="bold" fill="#262626" text-anchor="end" textLength="17.4" lengthAdjust="spacingAndGlyphs">24</text><circle cx="168.2" cy="289.3" r="1.6" fill="none" stroke="#262626" stroke-width="1.05"/><text x="175.3" y="302.5" font-size="13.2" font-weight="bold" fill="#262626" textLength="10.4" lengthAdjust="spacingAndGlyphs">N</text><text x="164" y="316.2" font-size="13.2" font-weight="bold" fill="#262626" text-anchor="end" textLength="17.4" lengthAdjust="spacingAndGlyphs">22</text><circle cx="168.2" cy="303" r="1.6" fill="none" stroke="#262626" stroke-width="1.05"/><text x="175.3" y="316.2" font-size="13.2" font-weight="bold" fill="#262626" textLength="10.4" lengthAdjust="spacingAndGlyphs">N</text><g transform="translate(0,0)"><rect x="441.5" y="95.5" width="23" height="215" fill="url(#jet)" stroke="#262626" stroke-width="1"/><line x1="461" y1="95.5" x2="464.5" y2="95.5" stroke="#262626" stroke-width="1"/><line x1="461" y1="203.5" x2="464.5" y2="203.5" stroke="#262626" stroke-width="1"/><line x1="461" y1="310.5" x2="464.5" y2="310.5" stroke="#262626" stroke-width="1"/><text x="473.5" y="102.9" font-size="21.5" font-weight="bold" fill="#262626" textLength="42.5" lengthAdjust="spacingAndGlyphs">100</text><text x="473.5" y="210.2" font-size="21.5" font-weight="bold" fill="#262626" textLength="27.8" lengthAdjust="spacingAndGlyphs">50</text><text x="473.5" y="318" font-size="21.5" font-weight="bold" fill="#262626" textLength="13.9" lengthAdjust="spacingAndGlyphs">0</text></g><text x="140.5" y="340.9" font-size="23.5" font-weight="bold" fill="#262626" textLength="334.5" lengthAdjust="spacingAndGlyphs">SAT 200 hPa RH (Percent)</text></g><g transform="translate(842,0)"><rect x="196.5" y="96.5" width="235" height="213" fill="none" stroke="#000" stroke-width="1"/><clipPath id="sw2"><path d="M316.6 93.8 L431 93.8 L432.3 95.5 L432.3 308.5 L430 311.9 L325 311.9 L301 307.3 L292.5 305.6 L291.2 303.5 Z"/></clipPath><g clip-path="url(#sw2)"><g transform="rotate(24 360 200)" filter="url(#jetf)"><g transform="rotate(-24 360 200)"><rect x="280" y="80" width="130" height="20" fill="#0f0f0f"/><rect x="410" y="80" width="10" height="20" fill="#4a4a4a"/><rect x="420" y="80" width="30" height="20" fill="#5c5c5c"/><rect x="280" y="100" width="130" height="10" fill="#0f0f0f"/><rect x="410" y="100" width="40" height="10" fill="#4a4a4a"/><rect x="280" y="110" width="130" height="10" fill="#0f0f0f"/><rect x="410" y="110" width="40" height="10" fill="#212121"/><rect x="280" y="120" width="60" height="10" fill="#212121"/><rect x="340" y="120" width="110" height="10" fill="#0f0f0f"/><rect x="280" y="130" width="60" height="10" fill="#363636"/><rect x="340" y="130" width="20" height="10" fill="#212121"/><rect x="360" y="130" width="90" height="10" fill="#0f0f0f"/><rect x="280" y="140" width="40" height="10" fill="#6e6e6e"/><rect x="320" y="140" width="20" height="10" fill="#5c5c5c"/><rect x="340" y="140" width="10" height="10" fill="#4a4a4a"/><rect x="350" y="140" width="20" height="10" fill="#363636"/><rect x="370" y="140" width="10" height="10" fill="#212121"/><rect x="380" y="140" width="70" height="10" fill="#0f0f0f"/><rect x="280" y="150" width="40" height="10" fill="#d4d4d4"/><rect x="320" y="150" width="20" height="10" fill="#ffffff"/><rect x="340" y="150" width="10" height="10" fill="#d4d4d4"/><rect x="350" y="150" width="10" height="10" fill="#a1a1a1"/><rect x="360" y="150" width="10" height="10" fill="#5c5c5c"/><rect x="370" y="150" width="10" height="10" fill="#363636"/><rect x="380" y="150" width="10" height="10" fill="#212121"/><rect x="390" y="150" width="60" height="10" fill="#0f0f0f"/><rect x="280" y="160" width="70" height="10" fill="#ffffff"/><rect x="350" y="160" width="10" height="10" fill="#b2b2b2"/><rect x="360" y="160" width="10" height="10" fill="#a1a1a1"/><rect x="370" y="160" width="10" height="10" fill="#ffffff"/><rect x="380" y="160" width="10" height="10" fill="#d4d4d4"/><rect x="390" y="160" width="10" height="10" fill="#ffffff"/><rect x="400" y="160" width="50" height="10" fill="#0f0f0f"/><rect x="280" y="170" width="60" height="10" fill="#ffffff"/><rect x="340" y="170" width="10" height="10" fill="#b2b2b2"/><rect x="350" y="170" width="10" height="10" fill="#8f8f8f"/><rect x="360" y="170" width="10" height="10" fill="#4a4a4a"/><rect x="370" y="170" width="10" height="10" fill="#d4d4d4"/><rect x="380" y="170" width="10" height="10" fill="#ffffff"/><rect x="390" y="170" width="10" height="10" fill="#d4d4d4"/><rect x="400" y="170" width="10" height="10" fill="#363636"/><rect x="410" y="170" width="40" height="10" fill="#212121"/><rect x="280" y="180" width="60" height="10" fill="#ffffff"/><rect x="340" y="180" width="10" height="10" fill="#a1a1a1"/><rect x="350" y="180" width="20" height="10" fill="#5c5c5c"/><rect x="370" y="180" width="10" height="10" fill="#6e6e6e"/><rect x="380" y="180" width="20" height="10" fill="#ffffff"/><rect x="400" y="180" width="10" height="10" fill="#b2b2b2"/><rect x="410" y="180" width="10" height="10" fill="#363636"/><rect x="420" y="180" width="30" height="10" fill="#212121"/><rect x="280" y="190" width="50" height="10" fill="#ffffff"/><rect x="330" y="190" width="10" height="10" fill="#b2b2b2"/><rect x="340" y="190" width="10" height="10" fill="#8f8f8f"/><rect x="350" y="190" width="10" height="10" fill="#c4c4c4"/><rect x="360" y="190" width="10" height="10" fill="#7d7d7d"/><rect x="370" y="190" width="10" height="10" fill="#5c5c5c"/><rect x="380" y="190" width="10" height="10" fill="#ffffff"/><rect x="390" y="190" width="10" height="10" fill="#5c5c5c"/><rect x="400" y="190" width="10" height="10" fill="#d4d4d4"/><rect x="410" y="190" width="10" height="10" fill="#8f8f8f"/><rect x="420" y="190" width="30" height="10" fill="#5c5c5c"/><rect x="280" y="200" width="50" height="10" fill="#ffffff"/><rect x="330" y="200" width="10" height="10" fill="#c4c4c4"/><rect x="340" y="200" width="10" height="10" fill="#ffffff"/><rect x="350" y="200" width="10" height="10" fill="#6e6e6e"/><rect x="360" y="200" width="20" height="10" fill="#5c5c5c"/><rect x="380" y="200" width="20" height="10" fill="#4a4a4a"/><rect x="400" y="200" width="10" height="10" fill="#6e6e6e"/><rect x="410" y="200" width="10" height="10" fill="#8f8f8f"/><rect x="420" y="200" width="30" height="10" fill="#5c5c5c"/><rect x="280" y="210" width="30" height="10" fill="#8f8f8f"/><rect x="310" y="210" width="40" height="10" fill="#d4d4d4"/><rect x="350" y="210" width="10" height="10" fill="#a1a1a1"/><rect x="360" y="210" width="20" height="10" fill="#5c5c5c"/><rect x="380" y="210" width="10" height="10" fill="#4a4a4a"/><rect x="390" y="210" width="10" height="10" fill="#363636"/><rect x="400" y="210" width="20" height="10" fill="#4a4a4a"/><rect x="420" y="210" width="30" height="10" fill="#363636"/><rect x="280" y="220" width="30" height="10" fill="#c4c4c4"/><rect x="310" y="220" width="10" height="10" fill="#5c5c5c"/><rect x="320" y="220" width="10" height="10" fill="#6e6e6e"/><rect x="330" y="220" width="10" height="10" fill="#5c5c5c"/><rect x="340" y="220" width="10" height="10" fill="#d4d4d4"/><rect x="350" y="220" width="20" height="10" fill="#a1a1a1"/><rect x="370" y="220" width="10" height="10" fill="#4a4a4a"/><rect x="380" y="220" width="40" height="10" fill="#363636"/><rect x="420" y="220" width="30" height="10" fill="#212121"/><rect x="280" y="230" width="30" height="10" fill="#b2b2b2"/><rect x="310" y="230" width="10" height="10" fill="#4a4a4a"/><rect x="320" y="230" width="10" height="10" fill="#363636"/><rect x="330" y="230" width="40" height="10" fill="#5c5c5c"/><rect x="370" y="230" width="10" height="10" fill="#4a4a4a"/><rect x="380" y="230" width="10" height="10" fill="#363636"/><rect x="390" y="230" width="60" height="10" fill="#212121"/><rect x="280" y="240" width="50" height="10" fill="#363636"/><rect x="330" y="240" width="20" height="10" fill="#5c5c5c"/><rect x="350" y="240" width="10" height="10" fill="#4a4a4a"/><rect x="360" y="240" width="20" height="10" fill="#212121"/><rect x="380" y="240" width="40" height="10" fill="#363636"/><rect x="420" y="240" width="30" height="10" fill="#212121"/><rect x="280" y="250" width="50" height="10" fill="#212121"/><rect x="330" y="250" width="20" height="10" fill="#363636"/><rect x="350" y="250" width="30" height="10" fill="#212121"/><rect x="380" y="250" width="20" height="10" fill="#363636"/><rect x="400" y="250" width="20" height="10" fill="#212121"/><rect x="420" y="250" width="30" height="10" fill="#4a4a4a"/><rect x="280" y="260" width="70" height="10" fill="#212121"/><rect x="350" y="260" width="10" height="10" fill="#363636"/><rect x="360" y="260" width="20" height="10" fill="#212121"/><rect x="380" y="260" width="10" height="10" fill="#4a4a4a"/><rect x="390" y="260" width="10" height="10" fill="#363636"/><rect x="400" y="260" width="10" height="10" fill="#212121"/><rect x="410" y="260" width="10" height="10" fill="#363636"/><rect x="420" y="260" width="30" height="10" fill="#4a4a4a"/><rect x="280" y="270" width="20" height="10" fill="#212121"/><rect x="300" y="270" width="50" height="10" fill="#0f0f0f"/><rect x="350" y="270" width="10" height="10" fill="#363636"/><rect x="360" y="270" width="20" height="10" fill="#212121"/><rect x="380" y="270" width="30" height="10" fill="#363636"/><rect x="410" y="270" width="10" height="10" fill="#4a4a4a"/><rect x="420" y="270" width="30" height="10" fill="#5c5c5c"/><rect x="280" y="280" width="40" height="10" fill="#212121"/><rect x="320" y="280" width="40" height="10" fill="#363636"/><rect x="360" y="280" width="10" height="10" fill="#212121"/><rect x="370" y="280" width="10" height="10" fill="#363636"/><rect x="380" y="280" width="10" height="10" fill="#4a4a4a"/><rect x="390" y="280" width="60" height="10" fill="#363636"/><rect x="280" y="290" width="40" height="10" fill="#363636"/><rect x="320" y="290" width="20" height="10" fill="#212121"/><rect x="340" y="290" width="40" height="10" fill="#363636"/><rect x="380" y="290" width="10" height="10" fill="#4a4a4a"/><rect x="390" y="290" width="10" height="10" fill="#363636"/><rect x="400" y="290" width="50" height="10" fill="#212121"/><rect x="280" y="300" width="20" height="10" fill="#4a4a4a"/><rect x="300" y="300" width="30" height="10" fill="#212121"/><rect x="330" y="300" width="10" height="10" fill="#363636"/><rect x="340" y="300" width="10" height="10" fill="#4a4a4a"/><rect x="350" y="300" width="20" height="10" fill="#363636"/><rect x="370" y="300" width="10" height="10" fill="#212121"/><rect x="380" y="300" width="20" height="10" fill="#363636"/><rect x="400" y="300" width="10" height="10" fill="#212121"/><rect x="410" y="300" width="40" height="10" fill="#363636"/><rect x="280" y="310" width="20" height="20" fill="#4a4a4a"/><rect x="300" y="310" width="30" height="20" fill="#212121"/><rect x="330" y="310" width="10" height="20" fill="#363636"/><rect x="340" y="310" width="10" height="20" fill="#4a4a4a"/><rect x="350" y="310" width="20" height="20" fill="#363636"/><rect x="370" y="310" width="10" height="20" fill="#212121"/><rect x="380" y="310" width="20" height="20" fill="#363636"/><rect x="400" y="310" width="10" height="20" fill="#212121"/><rect x="410" y="310" width="40" height="20" fill="#363636"/></g></g></g><path d="M321 177 L336 177 L336 189 L321 189 Z" fill="#fff"/><path d="M318 204 L347 204 L347 214 L318 214 Z" fill="#fff"/><g clip-path="url(#sw2)"><g filter="url(#jetd)"><ellipse cx="381" cy="263" rx="3.5" ry="1.5" fill="#ffffff" transform="rotate(10 381 263)"/><ellipse cx="391" cy="263" rx="4" ry="1.5" fill="#5c5c5c" transform="rotate(10 391 263)"/><ellipse cx="426" cy="273" rx="6" ry="4" fill="#ffffff" transform="rotate(25 426 273)"/><ellipse cx="416" cy="278" rx="6" ry="2.5" fill="#ffffff" transform="rotate(15 416 278)"/></g></g><g clip-path="url(#boxclip)"><use href="#borders"/></g><text x="242.9" y="75" font-size="13.6" font-weight="bold" fill="#262626" text-anchor="end" textLength="26.1" lengthAdjust="spacingAndGlyphs">100</text><circle cx="246.2" cy="62.7" r="1.6" fill="none" stroke="#262626" stroke-width="1.05"/><text x="254.4" y="75" font-size="13.6" font-weight="bold" fill="#262626" textLength="13.8" lengthAdjust="spacingAndGlyphs">W</text><text x="303.3" y="75" font-size="13.6" font-weight="bold" fill="#262626" text-anchor="end" textLength="17.8" lengthAdjust="spacingAndGlyphs">90</text><circle cx="306.6" cy="62.7" r="1.6" fill="none" stroke="#262626" stroke-width="1.05"/><text x="314.8" y="75" font-size="13.6" font-weight="bold" fill="#262626" textLength="13.8" lengthAdjust="spacingAndGlyphs">W</text><text x="367" y="75" font-size="13.6" font-weight="bold" fill="#262626" text-anchor="end" textLength="17.8" lengthAdjust="spacingAndGlyphs">80</text><circle cx="370.3" cy="62.7" r="1.6" fill="none" stroke="#262626" stroke-width="1.05"/><text x="378.5" y="75" font-size="13.6" font-weight="bold" fill="#262626" textLength="13.8" lengthAdjust="spacingAndGlyphs">W</text><text x="430.7" y="75" font-size="13.6" font-weight="bold" fill="#262626" text-anchor="end" textLength="17.8" lengthAdjust="spacingAndGlyphs">70</text><circle cx="434" cy="62.7" r="1.6" fill="none" stroke="#262626" stroke-width="1.05"/><text x="442.2" y="75" font-size="13.6" font-weight="bold" fill="#262626" textLength="13.8" lengthAdjust="spacingAndGlyphs">W</text><text x="164" y="112.7" font-size="13.2" font-weight="bold" fill="#262626" text-anchor="end" textLength="17.4" lengthAdjust="spacingAndGlyphs">48</text><circle cx="168.2" cy="99.5" r="1.6" fill="none" stroke="#262626" stroke-width="1.05"/><text x="175.3" y="112.7" font-size="13.2" font-weight="bold" fill="#262626" textLength="10.4" lengthAdjust="spacingAndGlyphs">N</text><text x="164" y="131.2" font-size="13.2" font-weight="bold" fill="#262626" text-anchor="end" textLength="17.4" lengthAdjust="spacingAndGlyphs">46</text><circle cx="168.2" cy="118" r="1.6" fill="none" stroke="#262626" stroke-width="1.05"/><text x="175.3" y="131.2" font-size="13.2" font-weight="bold" fill="#262626" textLength="10.4" lengthAdjust="spacingAndGlyphs">N</text><text x="164" y="149" font-size="13.2" font-weight="bold" fill="#262626" text-anchor="end" textLength="17.4" lengthAdjust="spacingAndGlyphs">44</text><circle cx="168.2" cy="135.8" r="1.6" fill="none" stroke="#262626" stroke-width="1.05"/><text x="175.3" y="149" font-size="13.2" font-weight="bold" fill="#262626" textLength="10.4" lengthAdjust="spacingAndGlyphs">N</text><text x="164" y="166.2" font-size="13.2" font-weight="bold" fill="#262626" text-anchor="end" textLength="17.4" lengthAdjust="spacingAndGlyphs">42</text><circle cx="168.2" cy="153" r="1.6" fill="none" stroke="#262626" stroke-width="1.05"/><text x="175.3" y="166.2" font-size="13.2" font-weight="bold" fill="#262626" textLength="10.4" lengthAdjust="spacingAndGlyphs">N</text><text x="164" y="182.9" font-size="13.2" font-weight="bold" fill="#262626" text-anchor="end" textLength="17.4" lengthAdjust="spacingAndGlyphs">40</text><circle cx="168.2" cy="169.7" r="1.6" fill="none" stroke="#262626" stroke-width="1.05"/><text x="175.3" y="182.9" font-size="13.2" font-weight="bold" fill="#262626" textLength="10.4" lengthAdjust="spacingAndGlyphs">N</text><text x="164" y="199.2" font-size="13.2" font-weight="bold" fill="#262626" text-anchor="end" textLength="17.4" lengthAdjust="spacingAndGlyphs">38</text><circle cx="168.2" cy="186" r="1.6" fill="none" stroke="#262626" stroke-width="1.05"/><text x="175.3" y="199.2" font-size="13.2" font-weight="bold" fill="#262626" textLength="10.4" lengthAdjust="spacingAndGlyphs">N</text><text x="164" y="214.9" font-size="13.2" font-weight="bold" fill="#262626" text-anchor="end" textLength="17.4" lengthAdjust="spacingAndGlyphs">36</text><circle cx="168.2" cy="201.7" r="1.6" fill="none" stroke="#262626" stroke-width="1.05"/><text x="175.3" y="214.9" font-size="13.2" font-weight="bold" fill="#262626" textLength="10.4" lengthAdjust="spacingAndGlyphs">N</text><text x="164" y="230.3" font-size="13.2" font-weight="bold" fill="#262626" text-anchor="end" textLength="17.4" lengthAdjust="spacingAndGlyphs">34</text><circle cx="168.2" cy="217.1" r="1.6" fill="none" stroke="#262626" stroke-width="1.05"/><text x="175.3" y="230.3" font-size="13.2" font-weight="bold" fill="#262626" textLength="10.4" lengthAdjust="spacingAndGlyphs">N</text><text x="164" y="245.4" font-size="13.2" font-weight="bold" fill="#262626" text-anchor="end" textLength="17.4" lengthAdjust="spacingAndGlyphs">32</text><circle cx="168.2" cy="232.2" r="1.6" fill="none" stroke="#262626" stroke-width="1.05"/><text x="175.3" y="245.4" font-size="13.2" font-weight="bold" fill="#262626" textLength="10.4" lengthAdjust="spacingAndGlyphs">N</text><text x="164" y="260.1" font-size="13.2" font-weight="bold" fill="#262626" text-anchor="end" textLength="17.4" lengthAdjust="spacingAndGlyphs">30</text><circle cx="168.2" cy="246.9" r="1.6" fill="none" stroke="#262626" stroke-width="1.05"/><text x="175.3" y="260.1" font-size="13.2" font-weight="bold" fill="#262626" textLength="10.4" lengthAdjust="spacingAndGlyphs">N</text><text x="164" y="274.5" font-size="13.2" font-weight="bold" fill="#262626" text-anchor="end" textLength="17.4" lengthAdjust="spacingAndGlyphs">28</text><circle cx="168.2" cy="261.3" r="1.6" fill="none" stroke="#262626" stroke-width="1.05"/><text x="175.3" y="274.5" font-size="13.2" font-weight="bold" fill="#262626" textLength="10.4" lengthAdjust="spacingAndGlyphs">N</text><text x="164" y="288.6" font-size="13.2" font-weight="bold" fill="#262626" text-anchor="end" textLength="17.4" lengthAdjust="spacingAndGlyphs">26</text><circle cx="168.2" cy="275.4" r="1.6" fill="none" stroke="#262626" stroke-width="1.05"/><text x="175.3" y="288.6" font-size="13.2" font-weight="bold" fill="#262626" textLength="10.4" lengthAdjust="spacingAndGlyphs">N</text><text x="164" y="302.5" font-size="13.2" font-weight="bold" fill="#262626" text-anchor="end" textLength="17.4" lengthAdjust="spacingAndGlyphs">24</text><circle cx="168.2" cy="289.3" r="1.6" fill="none" stroke="#262626" stroke-width="1.05"/><text x="175.3" y="302.5" font-size="13.2" font-weight="bold" fill="#262626" textLength="10.4" lengthAdjust="spacingAndGlyphs">N</text><text x="164" y="316.2" font-size="13.2" font-weight="bold" fill="#262626" text-anchor="end" textLength="17.4" lengthAdjust="spacingAndGlyphs">22</text><circle cx="168.2" cy="303" r="1.6" fill="none" stroke="#262626" stroke-width="1.05"/><text x="175.3" y="316.2" font-size="13.2" font-weight="bold" fill="#262626" textLength="10.4" lengthAdjust="spacingAndGlyphs">N</text><g transform="translate(2.3,0)"><rect x="441.5" y="95.5" width="23" height="215" fill="url(#jet)" stroke="#262626" stroke-width="1"/><line x1="461" y1="95.5" x2="464.5" y2="95.5" stroke="#262626" stroke-width="1"/><line x1="461" y1="203.5" x2="464.5" y2="203.5" stroke="#262626" stroke-width="1"/><line x1="461" y1="310.5" x2="464.5" y2="310.5" stroke="#262626" stroke-width="1"/><text x="473.5" y="102.9" font-size="21.5" font-weight="bold" fill="#262626" textLength="42.5" lengthAdjust="spacingAndGlyphs">100</text><text x="473.5" y="210.2" font-size="21.5" font-weight="bold" fill="#262626" textLength="27.8" lengthAdjust="spacingAndGlyphs">50</text><text x="473.5" y="318" font-size="21.5" font-weight="bold" fill="#262626" textLength="13.9" lengthAdjust="spacingAndGlyphs">0</text></g><text x="140.5" y="340.9" font-size="23.5" font-weight="bold" fill="#262626" textLength="334.5" lengthAdjust="spacingAndGlyphs">SAT 250 hPa RH (Percent)</text></g><g transform="translate(0,390)"><rect x="196.5" y="96.5" width="235" height="213" fill="none" stroke="#000" stroke-width="1"/><clipPath id="sw3"><path d="M316.6 93.8 L431 93.8 L432.3 95.5 L432.3 308.5 L430 311.9 L325 311.9 L301 307.3 L292.5 305.6 L291.2 303.5 Z"/></clipPath><g clip-path="url(#sw3)"><g transform="rotate(24 360 200)" filter="url(#jetf)"><g transform="rotate(-24 360 200)"><rect x="280" y="80" width="80" height="20" fill="#5c5c5c"/><rect x="360" y="80" width="10" height="20" fill="#363636"/><rect x="370" y="80" width="30" height="20" fill="#212121"/><rect x="400" y="80" width="10" height="20" fill="#363636"/><rect x="410" y="80" width="10" height="20" fill="#6e6e6e"/><rect x="420" y="80" width="30" height="20" fill="#4a4a4a"/><rect x="280" y="100" width="40" height="10" fill="#212121"/><rect x="320" y="100" width="10" height="10" fill="#5c5c5c"/><rect x="330" y="100" width="30" height="10" fill="#b2b2b2"/><rect x="360" y="100" width="10" height="10" fill="#5c5c5c"/><rect x="370" y="100" width="10" height="10" fill="#363636"/><rect x="380" y="100" width="20" height="10" fill="#212121"/><rect x="400" y="100" width="10" height="10" fill="#363636"/><rect x="410" y="100" width="10" height="10" fill="#6e6e6e"/><rect x="420" y="100" width="10" height="10" fill="#4a4a4a"/><rect x="430" y="100" width="20" height="10" fill="#363636"/><rect x="280" y="110" width="40" height="10" fill="#212121"/><rect x="320" y="110" width="10" height="10" fill="#363636"/><rect x="330" y="110" width="30" height="10" fill="#b2b2b2"/><rect x="360" y="110" width="10" height="10" fill="#5c5c5c"/><rect x="370" y="110" width="10" height="10" fill="#4a4a4a"/><rect x="380" y="110" width="10" height="10" fill="#363636"/><rect x="390" y="110" width="20" height="10" fill="#212121"/><rect x="410" y="110" width="10" height="10" fill="#4a4a4a"/><rect x="420" y="110" width="10" height="10" fill="#5c5c5c"/><rect x="430" y="110" width="20" height="10" fill="#363636"/><rect x="280" y="120" width="40" height="10" fill="#0f0f0f"/><rect x="320" y="120" width="20" height="10" fill="#212121"/><rect x="340" y="120" width="30" height="10" fill="#4a4a4a"/><rect x="370" y="120" width="10" height="10" fill="#5c5c5c"/><rect x="380" y="120" width="10" height="10" fill="#4a4a4a"/><rect x="390" y="120" width="10" height="10" fill="#363636"/><rect x="400" y="120" width="20" height="10" fill="#212121"/><rect x="420" y="120" width="10" height="10" fill="#4a4a4a"/><rect x="430" y="120" width="20" height="10" fill="#363636"/><rect x="280" y="130" width="60" height="10" fill="#0f0f0f"/><rect x="340" y="130" width="20" height="10" fill="#212121"/><rect x="360" y="130" width="20" height="10" fill="#4a4a4a"/><rect x="380" y="130" width="20" height="10" fill="#5c5c5c"/><rect x="400" y="130" width="10" height="10" fill="#4a4a4a"/><rect x="410" y="130" width="10" height="10" fill="#212121"/><rect x="420" y="130" width="30" height="10" fill="#363636"/><rect x="280" y="140" width="60" height="10" fill="#0f0f0f"/><rect x="340" y="140" width="10" height="10" fill="#212121"/><rect x="350" y="140" width="10" height="10" fill="#0f0f0f"/><rect x="360" y="140" width="10" height="10" fill="#212121"/><rect x="370" y="140" width="20" height="10" fill="#4a4a4a"/><rect x="390" y="140" width="10" height="10" fill="#5c5c5c"/><rect x="400" y="140" width="10" height="10" fill="#4a4a4a"/><rect x="410" y="140" width="10" height="10" fill="#212121"/><rect x="420" y="140" width="30" height="10" fill="#363636"/><rect x="280" y="150" width="40" height="10" fill="#6e6e6e"/><rect x="320" y="150" width="10" height="10" fill="#8f8f8f"/><rect x="330" y="150" width="20" height="10" fill="#363636"/><rect x="350" y="150" width="10" height="10" fill="#4a4a4a"/><rect x="360" y="150" width="10" height="10" fill="#212121"/><rect x="370" y="150" width="10" height="10" fill="#0f0f0f"/><rect x="380" y="150" width="10" height="10" fill="#363636"/><rect x="390" y="150" width="20" height="10" fill="#4a4a4a"/><rect x="410" y="150" width="40" height="10" fill="#363636"/><rect x="280" y="160" width="40" height="10" fill="#b2b2b2"/><rect x="320" y="160" width="10" height="10" fill="#c4c4c4"/><rect x="330" y="160" width="10" height="10" fill="#b2b2b2"/><rect x="340" y="160" width="10" height="10" fill="#c4c4c4"/><rect x="350" y="160" width="10" height="10" fill="#a1a1a1"/><rect x="360" y="160" width="10" height="10" fill="#5c5c5c"/><rect x="370" y="160" width="10" height="10" fill="#8f8f8f"/><rect x="380" y="160" width="20" height="10" fill="#363636"/><rect x="400" y="160" width="50" height="10" fill="#212121"/><rect x="280" y="170" width="30" height="10" fill="#8f8f8f"/><rect x="310" y="170" width="20" height="10" fill="#b2b2b2"/><rect x="330" y="170" width="10" height="10" fill="#c4c4c4"/><rect x="340" y="170" width="10" height="10" fill="#b2b2b2"/><rect x="350" y="170" width="10" height="10" fill="#8f8f8f"/><rect x="360" y="170" width="10" height="10" fill="#7d7d7d"/><rect x="370" y="170" width="20" height="10" fill="#8f8f8f"/><rect x="390" y="170" width="10" height="10" fill="#363636"/><rect x="400" y="170" width="50" height="10" fill="#212121"/><rect x="280" y="180" width="30" height="10" fill="#7d7d7d"/><rect x="310" y="180" width="20" height="10" fill="#c4c4c4"/><rect x="330" y="180" width="10" height="10" fill="#7d7d7d"/><rect x="340" y="180" width="10" height="10" fill="#a1a1a1"/><rect x="350" y="180" width="10" height="10" fill="#c4c4c4"/><rect x="360" y="180" width="10" height="10" fill="#7d7d7d"/><rect x="370" y="180" width="10" height="10" fill="#b2b2b2"/><rect x="380" y="180" width="10" height="10" fill="#c4c4c4"/><rect x="390" y="180" width="10" height="10" fill="#a1a1a1"/><rect x="400" y="180" width="20" height="10" fill="#4a4a4a"/><rect x="420" y="180" width="30" height="10" fill="#363636"/><rect x="280" y="190" width="40" height="10" fill="#c4c4c4"/><rect x="320" y="190" width="30" height="10" fill="#7d7d7d"/><rect x="350" y="190" width="10" height="10" fill="#a1a1a1"/><rect x="360" y="190" width="20" height="10" fill="#b2b2b2"/><rect x="380" y="190" width="20" height="10" fill="#5c5c5c"/><rect x="400" y="190" width="10" height="10" fill="#4a4a4a"/><rect x="410" y="190" width="10" height="10" fill="#5c5c5c"/><rect x="420" y="190" width="30" height="10" fill="#4a4a4a"/><rect x="280" y="200" width="30" height="10" fill="#6e6e6e"/><rect x="310" y="200" width="10" height="10" fill="#7d7d7d"/><rect x="320" y="200" width="10" height="10" fill="#6e6e6e"/><rect x="330" y="200" width="30" height="10" fill="#5c5c5c"/><rect x="360" y="200" width="10" height="10" fill="#4a4a4a"/><rect x="370" y="200" width="10" height="10" fill="#5c5c5c"/><rect x="380" y="200" width="10" height="10" fill="#4a4a4a"/><rect x="390" y="200" width="10" height="10" fill="#5c5c5c"/><rect x="400" y="200" width="10" height="10" fill="#4a4a4a"/><rect x="410" y="200" width="10" height="10" fill="#5c5c5c"/><rect x="420" y="200" width="30" height="10" fill="#4a4a4a"/><rect x="280" y="210" width="30" height="10" fill="#7d7d7d"/><rect x="310" y="210" width="10" height="10" fill="#4a4a4a"/><rect x="320" y="210" width="10" height="10" fill="#5c5c5c"/><rect x="330" y="210" width="10" height="10" fill="#6e6e6e"/><rect x="340" y="210" width="10" height="10" fill="#c4c4c4"/><rect x="350" y="210" width="10" height="10" fill="#6e6e6e"/><rect x="360" y="210" width="10" height="10" fill="#5c5c5c"/><rect x="370" y="210" width="30" height="10" fill="#4a4a4a"/><rect x="400" y="210" width="10" height="10" fill="#5c5c5c"/><rect x="410" y="210" width="10" height="10" fill="#6e6e6e"/><rect x="420" y="210" width="30" height="10" fill="#5c5c5c"/><rect x="280" y="220" width="30" height="10" fill="#a1a1a1"/><rect x="310" y="220" width="60" height="10" fill="#6e6e6e"/><rect x="370" y="220" width="10" height="10" fill="#5c5c5c"/><rect x="380" y="220" width="10" height="10" fill="#4a4a4a"/><rect x="390" y="220" width="10" height="10" fill="#5c5c5c"/><rect x="400" y="220" width="10" height="10" fill="#6e6e6e"/><rect x="410" y="220" width="40" height="10" fill="#4a4a4a"/><rect x="280" y="230" width="30" height="10" fill="#7d7d7d"/><rect x="310" y="230" width="20" height="10" fill="#5c5c5c"/><rect x="330" y="230" width="10" height="10" fill="#6e6e6e"/><rect x="340" y="230" width="10" height="10" fill="#4a4a4a"/><rect x="350" y="230" width="10" height="10" fill="#5c5c5c"/><rect x="360" y="230" width="50" height="10" fill="#4a4a4a"/><rect x="410" y="230" width="40" height="10" fill="#363636"/><rect x="280" y="240" width="30" height="10" fill="#363636"/><rect x="310" y="240" width="20" height="10" fill="#4a4a4a"/><rect x="330" y="240" width="10" height="10" fill="#363636"/><rect x="340" y="240" width="10" height="10" fill="#5c5c5c"/><rect x="350" y="240" width="10" height="10" fill="#6e6e6e"/><rect x="360" y="240" width="30" height="10" fill="#363636"/><rect x="390" y="240" width="10" height="10" fill="#5c5c5c"/><rect x="400" y="240" width="50" height="10" fill="#363636"/><rect x="280" y="250" width="20" height="10" fill="#212121"/><rect x="300" y="250" width="30" height="10" fill="#0f0f0f"/><rect x="330" y="250" width="20" height="10" fill="#212121"/><rect x="350" y="250" width="10" height="10" fill="#0f0f0f"/><rect x="360" y="250" width="10" height="10" fill="#212121"/><rect x="370" y="250" width="10" height="10" fill="#363636"/><rect x="380" y="250" width="10" height="10" fill="#212121"/><rect x="390" y="250" width="10" height="10" fill="#0f0f0f"/><rect x="400" y="250" width="10" height="10" fill="#212121"/><rect x="410" y="250" width="20" height="10" fill="#4a4a4a"/><rect x="430" y="250" width="20" height="10" fill="#363636"/><rect x="280" y="260" width="90" height="10" fill="#0f0f0f"/><rect x="370" y="260" width="10" height="10" fill="#212121"/><rect x="380" y="260" width="20" height="10" fill="#4a4a4a"/><rect x="400" y="260" width="20" height="10" fill="#b2b2b2"/><rect x="420" y="260" width="10" height="10" fill="#6e6e6e"/><rect x="430" y="260" width="20" height="10" fill="#5c5c5c"/><rect x="280" y="270" width="80" height="10" fill="#0f0f0f"/><rect x="360" y="270" width="10" height="10" fill="#212121"/><rect x="370" y="270" width="10" height="10" fill="#363636"/><rect x="380" y="270" width="10" height="10" fill="#4a4a4a"/><rect x="390" y="270" width="20" height="10" fill="#5c5c5c"/><rect x="410" y="270" width="10" height="10" fill="#7d7d7d"/><rect x="420" y="270" width="10" height="10" fill="#5c5c5c"/><rect x="430" y="270" width="20" height="10" fill="#4a4a4a"/><rect x="280" y="280" width="30" height="10" fill="#212121"/><rect x="310" y="280" width="20" height="10" fill="#363636"/><rect x="330" y="280" width="20" height="10" fill="#4a4a4a"/><rect x="350" y="280" width="10" height="10" fill="#363636"/><rect x="360" y="280" width="20" height="10" fill="#4a4a4a"/><rect x="380" y="280" width="40" height="10" fill="#363636"/><rect x="420" y="280" width="30" height="10" fill="#212121"/><rect x="280" y="290" width="20" height="10" fill="#363636"/><rect x="300" y="290" width="30" height="10" fill="#4a4a4a"/><rect x="330" y="290" width="60" height="10" fill="#363636"/><rect x="390" y="290" width="60" height="10" fill="#212121"/><rect x="280" y="300" width="30" height="10" fill="#363636"/><rect x="310" y="300" width="20" height="10" fill="#4a4a4a"/><rect x="330" y="300" width="20" height="10" fill="#363636"/><rect x="350" y="300" width="100" height="10" fill="#212121"/><rect x="280" y="310" width="30" height="20" fill="#363636"/><rect x="310" y="310" width="20" height="20" fill="#4a4a4a"/><rect x="330" y="310" width="20" height="20" fill="#363636"/><rect x="350" y="310" width="100" height="20" fill="#212121"/></g></g></g><path d="M300 162 L336 162 L336 186 L328 188 L328 202 L300 202 Z" fill="#fff"/><path d="M305 203 L347 203 L347 214 L305 214 Z" fill="#fff"/><g clip-path="url(#sw3)"><g filter="url(#jetd)"><ellipse cx="340" cy="103" rx="4" ry="3" fill="#b2b2b2"/><ellipse cx="358" cy="110" rx="5" ry="3" fill="#b2b2b2"/><ellipse cx="350" cy="120" rx="4" ry="4" fill="#a1a1a1"/><ellipse cx="361" cy="125" rx="3" ry="2" fill="#a1a1a1"/><ellipse cx="375" cy="126" rx="3" ry="2.5" fill="#b2b2b2"/><ellipse cx="377" cy="129" rx="2" ry="2" fill="#a1a1a1"/><ellipse cx="424" cy="266" rx="7" ry="3" fill="#c4c4c4" transform="rotate(15 424 266)"/><ellipse cx="414" cy="275" rx="3" ry="3" fill="#8f8f8f"/><ellipse cx="424" cy="275" rx="3" ry="3" fill="#8f8f8f"/><ellipse cx="313" cy="168" rx="3" ry="3" fill="#b2b2b2"/><ellipse cx="312" cy="181" rx="4" ry="4" fill="#8f8f8f"/><ellipse cx="324" cy="167" rx="3" ry="3" fill="#d4d4d4"/><ellipse cx="323" cy="178" rx="3" ry="3.5" fill="#c4c4c4"/><ellipse cx="324" cy="190" rx="4" ry="3.5" fill="#d4d4d4"/><ellipse cx="314" cy="209" rx="5" ry="3.5" fill="#7d7d7d"/></g></g><g clip-path="url(#boxclip)"><use href="#borders"/></g><text x="241.4" y="77" font-size="13.6" font-weight="bold" fill="#262626" text-anchor="end" textLength="26.1" lengthAdjust="spacingAndGlyphs">100</text><circle cx="244.7" cy="64.7" r="1.6" fill="none" stroke="#262626" stroke-width="1.05"/><text x="252.9" y="77" font-size="13.6" font-weight="bold" fill="#262626" textLength="13.8" lengthAdjust="spacingAndGlyphs">W</text><text x="301.8" y="77" font-size="13.6" font-weight="bold" fill="#262626" text-anchor="end" textLength="17.8" lengthAdjust="spacingAndGlyphs">90</text><circle cx="305.1" cy="64.7" r="1.6" fill="none" stroke="#262626" stroke-width="1.05"/><text x="313.3" y="77" font-size="13.6" font-weight="bold" fill="#262626" textLength="13.8" lengthAdjust="spacingAndGlyphs">W</text><text x="365.5" y="77" font-size="13.6" font-weight="bold" fill="#262626" text-anchor="end" textLength="17.8" lengthAdjust="spacingAndGlyphs">80</text><circle cx="368.8" cy="64.7" r="1.6" fill="none" stroke="#262626" stroke-width="1.05"/><text x="377" y="77" font-size="13.6" font-weight="bold" fill="#262626" textLength="13.8" lengthAdjust="spacingAndGlyphs">W</text><text x="429.2" y="77" font-size="13.6" font-weight="bold" fill="#262626" text-anchor="end" textLength="17.8" lengthAdjust="spacingAndGlyphs">70</text><circle cx="432.5" cy="64.7" r="1.6" fill="none" stroke="#262626" stroke-width="1.05"/><text x="440.7" y="77" font-size="13.6" font-weight="bold" fill="#262626" textLength="13.8" lengthAdjust="spacingAndGlyphs">W</text><text x="164" y="112.7" font-size="13.2" font-weight="bold" fill="#262626" text-anchor="end" textLength="17.4" lengthAdjust="spacingAndGlyphs">48</text><circle cx="168.2" cy="99.5" r="1.6" fill="none" stroke="#262626" stroke-width="1.05"/><text x="175.3" y="112.7" font-size="13.2" font-weight="bold" fill="#262626" textLength="10.4" lengthAdjust="spacingAndGlyphs">N</text><text x="164" y="131.2" font-size="13.2" font-weight="bold" fill="#262626" text-anchor="end" textLength="17.4" lengthAdjust="spacingAndGlyphs">46</text><circle cx="168.2" cy="118" r="1.6" fill="none" stroke="#262626" stroke-width="1.05"/><text x="175.3" y="131.2" font-size="13.2" font-weight="bold" fill="#262626" textLength="10.4" lengthAdjust="spacingAndGlyphs">N</text><text x="164" y="149" font-size="13.2" font-weight="bold" fill="#262626" text-anchor="end" textLength="17.4" lengthAdjust="spacingAndGlyphs">44</text><circle cx="168.2" cy="135.8" r="1.6" fill="none" stroke="#262626" stroke-width="1.05"/><text x="175.3" y="149" font-size="13.2" font-weight="bold" fill="#262626" textLength="10.4" lengthAdjust="spacingAndGlyphs">N</text><text x="164" y="166.2" font-size="13.2" font-weight="bold" fill="#262626" text-anchor="end" textLength="17.4" lengthAdjust="spacingAndGlyphs">42</text><circle cx="168.2" cy="153" r="1.6" fill="none" stroke="#262626" stroke-width="1.05"/><text x="175.3" y="166.2" font-size="13.2" font-weight="bold" fill="#262626" textLength="10.4" lengthAdjust="spacingAndGlyphs">N</text><text x="164" y="182.9" font-size="13.2" font-weight="bold" fill="#262626" text-anchor="end" textLength="17.4" lengthAdjust="spacingAndGlyphs">40</text><circle cx="168.2" cy="169.7" r="1.6" fill="none" stroke="#262626" stroke-width="1.05"/><text x="175.3" y="182.9" font-size="13.2" font-weight="bold" fill="#262626" textLength="10.4" lengthAdjust="spacingAndGlyphs">N</text><text x="164" y="199.2" font-size="13.2" font-weight="bold" fill="#262626" text-anchor="end" textLength="17.4" lengthAdjust="spacingAndGlyphs">38</text><circle cx="168.2" cy="186" r="1.6" fill="none" stroke="#262626" stroke-width="1.05"/><text x="175.3" y="199.2" font-size="13.2" font-weight="bold" fill="#262626" textLength="10.4" lengthAdjust="spacingAndGlyphs">N</text><text x="164" y="214.9" font-size="13.2" font-weight="bold" fill="#262626" text-anchor="end" textLength="17.4" lengthAdjust="spacingAndGlyphs">36</text><circle cx="168.2" cy="201.7" r="1.6" fill="none" stroke="#262626" stroke-width="1.05"/><text x="175.3" y="214.9" font-size="13.2" font-weight="bold" fill="#262626" textLength="10.4" lengthAdjust="spacingAndGlyphs">N</text><text x="164" y="230.3" font-size="13.2" font-weight="bold" fill="#262626" text-anchor="end" textLength="17.4" lengthAdjust="spacingAndGlyphs">34</text><circle cx="168.2" cy="217.1" r="1.6" fill="none" stroke="#262626" stroke-width="1.05"/><text x="175.3" y="230.3" font-size="13.2" font-weight="bold" fill="#262626" textLength="10.4" lengthAdjust="spacingAndGlyphs">N</text><text x="164" y="245.4" font-size="13.2" font-weight="bold" fill="#262626" text-anchor="end" textLength="17.4" lengthAdjust="spacingAndGlyphs">32</text><circle cx="168.2" cy="232.2" r="1.6" fill="none" stroke="#262626" stroke-width="1.05"/><text x="175.3" y="245.4" font-size="13.2" font-weight="bold" fill="#262626" textLength="10.4" lengthAdjust="spacingAndGlyphs">N</text><text x="164" y="260.1" font-size="13.2" font-weight="bold" fill="#262626" text-anchor="end" textLength="17.4" lengthAdjust="spacingAndGlyphs">30</text><circle cx="168.2" cy="246.9" r="1.6" fill="none" stroke="#262626" stroke-width="1.05"/><text x="175.3" y="260.1" font-size="13.2" font-weight="bold" fill="#262626" textLength="10.4" lengthAdjust="spacingAndGlyphs">N</text><text x="164" y="274.5" font-size="13.2" font-weight="bold" fill="#262626" text-anchor="end" textLength="17.4" lengthAdjust="spacingAndGlyphs">28</text><circle cx="168.2" cy="261.3" r="1.6" fill="none" stroke="#262626" stroke-width="1.05"/><text x="175.3" y="274.5" font-size="13.2" font-weight="bold" fill="#262626" textLength="10.4" lengthAdjust="spacingAndGlyphs">N</text><text x="164" y="288.6" font-size="13.2" font-weight="bold" fill="#262626" text-anchor="end" textLength="17.4" lengthAdjust="spacingAndGlyphs">26</text><circle cx="168.2" cy="275.4" r="1.6" fill="none" stroke="#262626" stroke-width="1.05"/><text x="175.3" y="288.6" font-size="13.2" font-weight="bold" fill="#262626" textLength="10.4" lengthAdjust="spacingAndGlyphs">N</text><text x="164" y="302.5" font-size="13.2" font-weight="bold" fill="#262626" text-anchor="end" textLength="17.4" lengthAdjust="spacingAndGlyphs">24</text><circle cx="168.2" cy="289.3" r="1.6" fill="none" stroke="#262626" stroke-width="1.05"/><text x="175.3" y="302.5" font-size="13.2" font-weight="bold" fill="#262626" textLength="10.4" lengthAdjust="spacingAndGlyphs">N</text><text x="164" y="316.2" font-size="13.2" font-weight="bold" fill="#262626" text-anchor="end" textLength="17.4" lengthAdjust="spacingAndGlyphs">22</text><circle cx="168.2" cy="303" r="1.6" fill="none" stroke="#262626" stroke-width="1.05"/><text x="175.3" y="316.2" font-size="13.2" font-weight="bold" fill="#262626" textLength="10.4" lengthAdjust="spacingAndGlyphs">N</text><g transform="translate(0,0)"><rect x="441.5" y="95.5" width="23" height="215" fill="url(#jet)" stroke="#262626" stroke-width="1"/><line x1="461" y1="95.5" x2="464.5" y2="95.5" stroke="#262626" stroke-width="1"/><line x1="461" y1="203.5" x2="464.5" y2="203.5" stroke="#262626" stroke-width="1"/><line x1="461" y1="310.5" x2="464.5" y2="310.5" stroke="#262626" stroke-width="1"/><text x="473.5" y="102.9" font-size="21.5" font-weight="bold" fill="#262626" textLength="42.5" lengthAdjust="spacingAndGlyphs">100</text><text x="473.5" y="210.2" font-size="21.5" font-weight="bold" fill="#262626" textLength="27.8" lengthAdjust="spacingAndGlyphs">50</text><text x="473.5" y="318" font-size="21.5" font-weight="bold" fill="#262626" textLength="13.9" lengthAdjust="spacingAndGlyphs">0</text></g><text x="140.5" y="340.9" font-size="23.5" font-weight="bold" fill="#262626" textLength="334.5" lengthAdjust="spacingAndGlyphs">SAT 300 hPa RH (Percent)</text></g><g transform="translate(421,390)"><rect x="196.5" y="96.5" width="235" height="213" fill="none" stroke="#000" stroke-width="1"/><clipPath id="sw4"><path d="M316.6 93.8 L431 93.8 L432.3 95.5 L432.3 308.5 L430 311.9 L325 311.9 L301 307.3 L292.5 305.6 L291.2 303.5 Z"/></clipPath><g clip-path="url(#sw4)"><g transform="rotate(24 360 200)" filter="url(#jetf)"><g transform="rotate(-24 360 200)"><rect x="280" y="80" width="90" height="20" fill="#5c5c5c"/><rect x="370" y="80" width="10" height="20" fill="#363636"/><rect x="380" y="80" width="10" height="20" fill="#0f0f0f"/><rect x="390" y="80" width="10" height="20" fill="#212121"/><rect x="400" y="80" width="10" height="20" fill="#5c5c5c"/><rect x="410" y="80" width="10" height="20" fill="#7d7d7d"/><rect x="420" y="80" width="30" height="20" fill="#5c5c5c"/><rect x="280" y="100" width="40" height="10" fill="#7d7d7d"/><rect x="320" y="100" width="10" height="10" fill="#6e6e6e"/><rect x="330" y="100" width="30" height="10" fill="#5c5c5c"/><rect x="360" y="100" width="10" height="10" fill="#6e6e6e"/><rect x="370" y="100" width="10" height="10" fill="#4a4a4a"/><rect x="380" y="100" width="10" height="10" fill="#212121"/><rect x="390" y="100" width="10" height="10" fill="#0f0f0f"/><rect x="400" y="100" width="10" height="10" fill="#4a4a4a"/><rect x="410" y="100" width="10" height="10" fill="#5c5c5c"/><rect x="420" y="100" width="10" height="10" fill="#363636"/><rect x="430" y="100" width="20" height="10" fill="#4a4a4a"/><rect x="280" y="110" width="40" height="10" fill="#6e6e6e"/><rect x="320" y="110" width="10" height="10" fill="#5c5c5c"/><rect x="330" y="110" width="30" height="10" fill="#4a4a4a"/><rect x="360" y="110" width="20" height="10" fill="#5c5c5c"/><rect x="380" y="110" width="10" height="10" fill="#363636"/><rect x="390" y="110" width="10" height="10" fill="#0f0f0f"/><rect x="400" y="110" width="10" height="10" fill="#212121"/><rect x="410" y="110" width="10" height="10" fill="#c4c4c4"/><rect x="420" y="110" width="10" height="10" fill="#212121"/><rect x="430" y="110" width="20" height="10" fill="#4a4a4a"/><rect x="280" y="120" width="60" height="10" fill="#212121"/><rect x="340" y="120" width="20" height="10" fill="#363636"/><rect x="360" y="120" width="10" height="10" fill="#4a4a4a"/><rect x="370" y="120" width="10" height="10" fill="#7d7d7d"/><rect x="380" y="120" width="10" height="10" fill="#4a4a4a"/><rect x="390" y="120" width="10" height="10" fill="#363636"/><rect x="400" y="120" width="20" height="10" fill="#212121"/><rect x="420" y="120" width="10" height="10" fill="#363636"/><rect x="430" y="120" width="20" height="10" fill="#6e6e6e"/><rect x="280" y="130" width="40" height="10" fill="#0f0f0f"/><rect x="320" y="130" width="10" height="10" fill="#212121"/><rect x="330" y="130" width="10" height="10" fill="#363636"/><rect x="340" y="130" width="10" height="10" fill="#212121"/><rect x="350" y="130" width="20" height="10" fill="#363636"/><rect x="370" y="130" width="10" height="10" fill="#4a4a4a"/><rect x="380" y="130" width="10" height="10" fill="#6e6e6e"/><rect x="390" y="130" width="10" height="10" fill="#4a4a4a"/><rect x="400" y="130" width="10" height="10" fill="#5c5c5c"/><rect x="410" y="130" width="20" height="10" fill="#212121"/><rect x="430" y="130" width="20" height="10" fill="#363636"/><rect x="280" y="140" width="60" height="10" fill="#0f0f0f"/><rect x="340" y="140" width="30" height="10" fill="#212121"/><rect x="370" y="140" width="10" height="10" fill="#363636"/><rect x="380" y="140" width="10" height="10" fill="#4a4a4a"/><rect x="390" y="140" width="20" height="10" fill="#5c5c5c"/><rect x="410" y="140" width="10" height="10" fill="#363636"/><rect x="420" y="140" width="10" height="10" fill="#212121"/><rect x="430" y="140" width="20" height="10" fill="#363636"/><rect x="280" y="150" width="40" height="10" fill="#212121"/><rect x="320" y="150" width="10" height="10" fill="#0f0f0f"/><rect x="330" y="150" width="10" height="10" fill="#212121"/><rect x="340" y="150" width="10" height="10" fill="#363636"/><rect x="350" y="150" width="20" height="10" fill="#212121"/><rect x="370" y="150" width="20" height="10" fill="#4a4a4a"/><rect x="390" y="150" width="10" height="10" fill="#5c5c5c"/><rect x="400" y="150" width="10" height="10" fill="#6e6e6e"/><rect x="410" y="150" width="10" height="10" fill="#5c5c5c"/><rect x="420" y="150" width="30" height="10" fill="#4a4a4a"/><rect x="280" y="160" width="60" height="10" fill="#b2b2b2"/><rect x="340" y="160" width="10" height="10" fill="#c4c4c4"/><rect x="350" y="160" width="10" height="10" fill="#b2b2b2"/><rect x="360" y="160" width="10" height="10" fill="#4a4a4a"/><rect x="370" y="160" width="20" height="10" fill="#363636"/><rect x="390" y="160" width="60" height="10" fill="#212121"/><rect x="280" y="170" width="30" height="10" fill="#a1a1a1"/><rect x="310" y="170" width="40" height="10" fill="#c4c4c4"/><rect x="350" y="170" width="10" height="10" fill="#b2b2b2"/><rect x="360" y="170" width="20" height="10" fill="#5c5c5c"/><rect x="380" y="170" width="20" height="10" fill="#4a4a4a"/><rect x="400" y="170" width="20" height="10" fill="#363636"/><rect x="420" y="170" width="30" height="10" fill="#212121"/><rect x="280" y="180" width="40" height="10" fill="#c4c4c4"/><rect x="320" y="180" width="10" height="10" fill="#b2b2b2"/><rect x="330" y="180" width="10" height="10" fill="#a1a1a1"/><rect x="340" y="180" width="10" height="10" fill="#b2b2b2"/><rect x="350" y="180" width="10" height="10" fill="#c4c4c4"/><rect x="360" y="180" width="10" height="10" fill="#8f8f8f"/><rect x="370" y="180" width="10" height="10" fill="#a1a1a1"/><rect x="380" y="180" width="10" height="10" fill="#8f8f8f"/><rect x="390" y="180" width="10" height="10" fill="#a1a1a1"/><rect x="400" y="180" width="20" height="10" fill="#363636"/><rect x="420" y="180" width="30" height="10" fill="#212121"/><rect x="280" y="190" width="60" height="10" fill="#b2b2b2"/><rect x="340" y="190" width="10" height="10" fill="#a1a1a1"/><rect x="350" y="190" width="10" height="10" fill="#c4c4c4"/><rect x="360" y="190" width="10" height="10" fill="#a1a1a1"/><rect x="370" y="190" width="20" height="10" fill="#c4c4c4"/><rect x="390" y="190" width="10" height="10" fill="#4a4a4a"/><rect x="400" y="190" width="10" height="10" fill="#363636"/><rect x="410" y="190" width="40" height="10" fill="#212121"/><rect x="280" y="200" width="30" height="10" fill="#7d7d7d"/><rect x="310" y="200" width="40" height="10" fill="#b2b2b2"/><rect x="350" y="200" width="10" height="10" fill="#a1a1a1"/><rect x="360" y="200" width="10" height="10" fill="#7d7d7d"/><rect x="370" y="200" width="20" height="10" fill="#6e6e6e"/><rect x="390" y="200" width="10" height="10" fill="#7d7d7d"/><rect x="400" y="200" width="10" height="10" fill="#6e6e6e"/><rect x="410" y="200" width="40" height="10" fill="#363636"/><rect x="280" y="210" width="30" height="10" fill="#b2b2b2"/><rect x="310" y="210" width="10" height="10" fill="#4a4a4a"/><rect x="320" y="210" width="20" height="10" fill="#5c5c5c"/><rect x="340" y="210" width="10" height="10" fill="#6e6e6e"/><rect x="350" y="210" width="10" height="10" fill="#c4c4c4"/><rect x="360" y="210" width="10" height="10" fill="#6e6e6e"/><rect x="370" y="210" width="10" height="10" fill="#5c5c5c"/><rect x="380" y="210" width="10" height="10" fill="#6e6e6e"/><rect x="390" y="210" width="10" height="10" fill="#7d7d7d"/><rect x="400" y="210" width="10" height="10" fill="#8f8f8f"/><rect x="410" y="210" width="10" height="10" fill="#6e6e6e"/><rect x="420" y="210" width="30" height="10" fill="#363636"/><rect x="280" y="220" width="30" height="10" fill="#363636"/><rect x="310" y="220" width="20" height="10" fill="#4a4a4a"/><rect x="330" y="220" width="10" height="10" fill="#5c5c5c"/><rect x="340" y="220" width="20" height="10" fill="#6e6e6e"/><rect x="360" y="220" width="10" height="10" fill="#5c5c5c"/><rect x="370" y="220" width="20" height="10" fill="#6e6e6e"/><rect x="390" y="220" width="10" height="10" fill="#7d7d7d"/><rect x="400" y="220" width="10" height="10" fill="#a1a1a1"/><rect x="410" y="220" width="10" height="10" fill="#7d7d7d"/><rect x="420" y="220" width="30" height="10" fill="#4a4a4a"/><rect x="280" y="230" width="30" height="10" fill="#212121"/><rect x="310" y="230" width="10" height="10" fill="#4a4a4a"/><rect x="320" y="230" width="10" height="10" fill="#363636"/><rect x="330" y="230" width="10" height="10" fill="#4a4a4a"/><rect x="340" y="230" width="10" height="10" fill="#6e6e6e"/><rect x="350" y="230" width="10" height="10" fill="#5c5c5c"/><rect x="360" y="230" width="10" height="10" fill="#6e6e6e"/><rect x="370" y="230" width="10" height="10" fill="#7d7d7d"/><rect x="380" y="230" width="30" height="10" fill="#6e6e6e"/><rect x="410" y="230" width="10" height="10" fill="#5c5c5c"/><rect x="420" y="230" width="30" height="10" fill="#212121"/><rect x="280" y="240" width="30" height="10" fill="#212121"/><rect x="310" y="240" width="10" height="10" fill="#363636"/><rect x="320" y="240" width="10" height="10" fill="#212121"/><rect x="330" y="240" width="10" height="10" fill="#363636"/><rect x="340" y="240" width="10" height="10" fill="#5c5c5c"/><rect x="350" y="240" width="10" height="10" fill="#b2b2b2"/><rect x="360" y="240" width="10" height="10" fill="#8f8f8f"/><rect x="370" y="240" width="10" height="10" fill="#5c5c5c"/><rect x="380" y="240" width="10" height="10" fill="#4a4a4a"/><rect x="390" y="240" width="10" height="10" fill="#5c5c5c"/><rect x="400" y="240" width="10" height="10" fill="#363636"/><rect x="410" y="240" width="40" height="10" fill="#212121"/><rect x="280" y="250" width="50" height="10" fill="#0f0f0f"/><rect x="330" y="250" width="10" height="10" fill="#212121"/><rect x="340" y="250" width="10" height="10" fill="#4a4a4a"/><rect x="350" y="250" width="10" height="10" fill="#212121"/><rect x="360" y="250" width="10" height="10" fill="#363636"/><rect x="370" y="250" width="10" height="10" fill="#4a4a4a"/><rect x="380" y="250" width="10" height="10" fill="#212121"/><rect x="390" y="250" width="10" height="10" fill="#0f0f0f"/><rect x="400" y="250" width="20" height="10" fill="#212121"/><rect x="420" y="250" width="30" height="10" fill="#363636"/><rect x="280" y="260" width="80" height="10" fill="#0f0f0f"/><rect x="360" y="260" width="20" height="10" fill="#212121"/><rect x="380" y="260" width="20" height="10" fill="#4a4a4a"/><rect x="400" y="260" width="10" height="10" fill="#6e6e6e"/><rect x="410" y="260" width="10" height="10" fill="#7d7d7d"/><rect x="420" y="260" width="30" height="10" fill="#6e6e6e"/><rect x="280" y="270" width="80" height="10" fill="#0f0f0f"/><rect x="360" y="270" width="10" height="10" fill="#212121"/><rect x="370" y="270" width="10" height="10" fill="#4a4a4a"/><rect x="380" y="270" width="30" height="10" fill="#5c5c5c"/><rect x="410" y="270" width="10" height="10" fill="#6e6e6e"/><rect x="420" y="270" width="10" height="10" fill="#4a4a4a"/><rect x="430" y="270" width="20" height="10" fill="#363636"/><rect x="280" y="280" width="20" height="10" fill="#0f0f0f"/><rect x="300" y="280" width="20" height="10" fill="#212121"/><rect x="320" y="280" width="40" height="10" fill="#363636"/><rect x="360" y="280" width="10" height="10" fill="#212121"/><rect x="370" y="280" width="30" height="10" fill="#4a4a4a"/><rect x="400" y="280" width="10" height="10" fill="#363636"/><rect x="410" y="280" width="10" height="10" fill="#212121"/><rect x="420" y="280" width="30" height="10" fill="#0f0f0f"/><rect x="280" y="290" width="20" height="10" fill="#0f0f0f"/><rect x="300" y="290" width="10" height="10" fill="#363636"/><rect x="310" y="290" width="10" height="10" fill="#6e6e6e"/><rect x="320" y="290" width="10" height="10" fill="#5c5c5c"/><rect x="330" y="290" width="30" height="10" fill="#363636"/><rect x="360" y="290" width="10" height="10" fill="#212121"/><rect x="370" y="290" width="10" height="10" fill="#363636"/><rect x="380" y="290" width="10" height="10" fill="#212121"/><rect x="390" y="290" width="20" height="10" fill="#363636"/><rect x="410" y="290" width="10" height="10" fill="#212121"/><rect x="420" y="290" width="30" height="10" fill="#0f0f0f"/><rect x="280" y="300" width="20" height="10" fill="#0f0f0f"/><rect x="300" y="300" width="10" height="10" fill="#5c5c5c"/><rect x="310" y="300" width="10" height="10" fill="#6e6e6e"/><rect x="320" y="300" width="30" height="10" fill="#363636"/><rect x="350" y="300" width="60" height="10" fill="#212121"/><rect x="410" y="300" width="40" height="10" fill="#0f0f0f"/><rect x="280" y="310" width="20" height="20" fill="#0f0f0f"/><rect x="300" y="310" width="10" height="20" fill="#5c5c5c"/><rect x="310" y="310" width="10" height="20" fill="#6e6e6e"/><rect x="320" y="310" width="30" height="20" fill="#363636"/><rect x="350" y="310" width="60" height="20" fill="#212121"/><rect x="410" y="310" width="40" height="20" fill="#0f0f0f"/></g></g></g><path d="M300 85 L351 85 L355 102 L361 112 L366 120 L368 139 L361 137 L354 129 L345 122 L337 118 L336 106 L300 106 Z" fill="#fff"/><path d="M300 162 L336 162 L336 186 L328 188 L328 202 L300 202 Z" fill="#fff"/><path d="M305 203 L347 203 L347 214 L305 214 Z" fill="#fff"/><line x1="296" y1="96.5" x2="352" y2="96.5" stroke="#000" stroke-width="1"/><g clip-path="url(#sw4)"><g filter="url(#jetd)"><ellipse cx="312" cy="168" rx="3.5" ry="3" fill="#b2b2b2"/><ellipse cx="312" cy="180" rx="4" ry="4.5" fill="#a1a1a1"/><ellipse cx="323" cy="177" rx="3.5" ry="3.5" fill="#c4c4c4"/><ellipse cx="323" cy="188" rx="3.5" ry="3" fill="#d4d4d4"/><ellipse cx="312" cy="209" rx="3.5" ry="3" fill="#7d7d7d"/><ellipse cx="306" cy="222" rx="4" ry="3.5" fill="#b2b2b2"/><ellipse cx="361" cy="212" rx="4" ry="2.5" fill="#c4c4c4"/><ellipse cx="418" cy="111" rx="4" ry="3" fill="#c4c4c4" transform="rotate(20 418 111)"/><ellipse cx="426" cy="118" rx="3" ry="3" fill="#d4d4d4"/></g></g><g clip-path="url(#boxclip)"><use href="#borders"/></g><text x="241.4" y="77" font-size="13.6" font-weight="bold" fill="#262626" text-anchor="end" textLength="26.1" lengthAdjust="spacingAndGlyphs">100</text><circle cx="244.7" cy="64.7" r="1.6" fill="none" stroke="#262626" stroke-width="1.05"/><text x="252.9" y="77" font-size="13.6" font-weight="bold" fill="#262626" textLength="13.8" lengthAdjust="spacingAndGlyphs">W</text><text x="301.8" y="77" font-size="13.6" font-weight="bold" fill="#262626" text-anchor="end" textLength="17.8" lengthAdjust="spacingAndGlyphs">90</text><circle cx="305.1" cy="64.7" r="1.6" fill="none" stroke="#262626" stroke-width="1.05"/><text x="313.3" y="77" font-size="13.6" font-weight="bold" fill="#262626" textLength="13.8" lengthAdjust="spacingAndGlyphs">W</text><text x="365.5" y="77" font-size="13.6" font-weight="bold" fill="#262626" text-anchor="end" textLength="17.8" lengthAdjust="spacingAndGlyphs">80</text><circle cx="368.8" cy="64.7" r="1.6" fill="none" stroke="#262626" stroke-width="1.05"/><text x="377" y="77" font-size="13.6" font-weight="bold" fill="#262626" textLength="13.8" lengthAdjust="spacingAndGlyphs">W</text><text x="429.2" y="77" font-size="13.6" font-weight="bold" fill="#262626" text-anchor="end" textLength="17.8" lengthAdjust="spacingAndGlyphs">70</text><circle cx="432.5" cy="64.7" r="1.6" fill="none" stroke="#262626" stroke-width="1.05"/><text x="440.7" y="77" font-size="13.6" font-weight="bold" fill="#262626" textLength="13.8" lengthAdjust="spacingAndGlyphs">W</text><text x="164" y="112.7" font-size="13.2" font-weight="bold" fill="#262626" text-anchor="end" textLength="17.4" lengthAdjust="spacingAndGlyphs">48</text><circle cx="168.2" cy="99.5" r="1.6" fill="none" stroke="#262626" stroke-width="1.05"/><text x="175.3" y="112.7" font-size="13.2" font-weight="bold" fill="#262626" textLength="10.4" lengthAdjust="spacingAndGlyphs">N</text><text x="164" y="131.2" font-size="13.2" font-weight="bold" fill="#262626" text-anchor="end" textLength="17.4" lengthAdjust="spacingAndGlyphs">46</text><circle cx="168.2" cy="118" r="1.6" fill="none" stroke="#262626" stroke-width="1.05"/><text x="175.3" y="131.2" font-size="13.2" font-weight="bold" fill="#262626" textLength="10.4" lengthAdjust="spacingAndGlyphs">N</text><text x="164" y="149" font-size="13.2" font-weight="bold" fill="#262626" text-anchor="end" textLength="17.4" lengthAdjust="spacingAndGlyphs">44</text><circle cx="168.2" cy="135.8" r="1.6" fill="none" stroke="#262626" stroke-width="1.05"/><text x="175.3" y="149" font-size="13.2" font-weight="bold" fill="#262626" textLength="10.4" lengthAdjust="spacingAndGlyphs">N</text><text x="164" y="166.2" font-size="13.2" font-weight="bold" fill="#262626" text-anchor="end" textLength="17.4" lengthAdjust="spacingAndGlyphs">42</text><circle cx="168.2" cy="153" r="1.6" fill="none" stroke="#262626" stroke-width="1.05"/><text x="175.3" y="166.2" font-size="13.2" font-weight="bold" fill="#262626" textLength="10.4" lengthAdjust="spacingAndGlyphs">N</text><text x="164" y="182.9" font-size="13.2" font-weight="bold" fill="#262626" text-anchor="end" textLength="17.4" lengthAdjust="spacingAndGlyphs">40</text><circle cx="168.2" cy="169.7" r="1.6" fill="none" stroke="#262626" stroke-width="1.05"/><text x="175.3" y="182.9" font-size="13.2" font-weight="bold" fill="#262626" textLength="10.4" lengthAdjust="spacingAndGlyphs">N</text><text x="164" y="199.2" font-size="13.2" font-weight="bold" fill="#262626" text-anchor="end" textLength="17.4" lengthAdjust="spacingAndGlyphs">38</text><circle cx="168.2" cy="186" r="1.6" fill="none" stroke="#262626" stroke-width="1.05"/><text x="175.3" y="199.2" font-size="13.2" font-weight="bold" fill="#262626" textLength="10.4" lengthAdjust="spacingAndGlyphs">N</text><text x="164" y="214.9" font-size="13.2" font-weight="bold" fill="#262626" text-anchor="end" textLength="17.4" lengthAdjust="spacingAndGlyphs">36</text><circle cx="168.2" cy="201.7" r="1.6" fill="none" stroke="#262626" stroke-width="1.05"/><text x="175.3" y="214.9" font-size="13.2" font-weight="bold" fill="#262626" textLength="10.4" lengthAdjust="spacingAndGlyphs">N</text><text x="164" y="230.3" font-size="13.2" font-weight="bold" fill="#262626" text-anchor="end" textLength="17.4" lengthAdjust="spacingAndGlyphs">34</text><circle cx="168.2" cy="217.1" r="1.6" fill="none" stroke="#262626" stroke-width="1.05"/><text x="175.3" y="230.3" font-size="13.2" font-weight="bold" fill="#262626" textLength="10.4" lengthAdjust="spacingAndGlyphs">N</text><text x="164" y="245.4" font-size="13.2" font-weight="bold" fill="#262626" text-anchor="end" textLength="17.4" lengthAdjust="spacingAndGlyphs">32</text><circle cx="168.2" cy="232.2" r="1.6" fill="none" stroke="#262626" stroke-width="1.05"/><text x="175.3" y="245.4" font-size="13.2" font-weight="bold" fill="#262626" textLength="10.4" lengthAdjust="spacingAndGlyphs">N</text><text x="164" y="260.1" font-size="13.2" font-weight="bold" fill="#262626" text-anchor="end" textLength="17.4" lengthAdjust="spacingAndGlyphs">30</text><circle cx="168.2" cy="246.9" r="1.6" fill="none" stroke="#262626" stroke-width="1.05"/><text x="175.3" y="260.1" font-size="13.2" font-weight="bold" fill="#262626" textLength="10.4" lengthAdjust="spacingAndGlyphs">N</text><text x="164" y="274.5" font-size="13.2" font-weight="bold" fill="#262626" text-anchor="end" textLength="17.4" lengthAdjust="spacingAndGlyphs">28</text><circle cx="168.2" cy="261.3" r="1.6" fill="none" stroke="#262626" stroke-width="1.05"/><text x="175.3" y="274.5" font-size="13.2" font-weight="bold" fill="#262626" textLength="10.4" lengthAdjust="spacingAndGlyphs">N</text><text x="164" y="288.6" font-size="13.2" font-weight="bold" fill="#262626" text-anchor="end" textLength="17.4" lengthAdjust="spacingAndGlyphs">26</text><circle cx="168.2" cy="275.4" r="1.6" fill="none" stroke="#262626" stroke-width="1.05"/><text x="175.3" y="288.6" font-size="13.2" font-weight="bold" fill="#262626" textLength="10.4" lengthAdjust="spacingAndGlyphs">N</text><text x="164" y="302.5" font-size="13.2" font-weight="bold" fill="#262626" text-anchor="end" textLength="17.4" lengthAdjust="spacingAndGlyphs">24</text><circle cx="168.2" cy="289.3" r="1.6" fill="none" stroke="#262626" stroke-width="1.05"/><text x="175.3" y="302.5" font-size="13.2" font-weight="bold" fill="#262626" textLength="10.4" lengthAdjust="spacingAndGlyphs">N</text><text x="164" y="316.2" font-size="13.2" font-weight="bold" fill="#262626" text-anchor="end" textLength="17.4" lengthAdjust="spacingAndGlyphs">22</text><circle cx="168.2" cy="303" r="1.6" fill="none" stroke="#262626" stroke-width="1.05"/><text x="175.3" y="316.2" font-size="13.2" font-weight="bold" fill="#262626" textLength="10.4" lengthAdjust="spacingAndGlyphs">N</text><g transform="translate(0,0)"><rect x="441.5" y="95.5" width="23" height="215" fill="url(#jet)" stroke="#262626" stroke-width="1"/><line x1="461" y1="95.5" x2="464.5" y2="95.5" stroke="#262626" stroke-width="1"/><line x1="461" y1="203.5" x2="464.5" y2="203.5" stroke="#262626" stroke-width="1"/><line x1="461" y1="310.5" x2="464.5" y2="310.5" stroke="#262626" stroke-width="1"/><text x="473.5" y="102.9" font-size="21.5" font-weight="bold" fill="#262626" textLength="42.5" lengthAdjust="spacingAndGlyphs">100</text><text x="473.5" y="210.2" font-size="21.5" font-weight="bold" fill="#262626" textLength="27.8" lengthAdjust="spacingAndGlyphs">50</text><text x="473.5" y="318" font-size="21.5" font-weight="bold" fill="#262626" textLength="13.9" lengthAdjust="spacingAndGlyphs">0</text></g><text x="140.5" y="340.9" font-size="23.5" font-weight="bold" fill="#262626" textLength="334.5" lengthAdjust="spacingAndGlyphs">SAT 350 hPa RH (Percent)</text></g><g transform="translate(842,390)"><rect x="196.5" y="96.5" width="235" height="213" fill="none" stroke="#000" stroke-width="1"/><clipPath id="sw5"><path d="M316.6 93.8 L431 93.8 L432.3 95.5 L432.3 308.5 L430 311.9 L325 311.9 L301 307.3 L292.5 305.6 L291.2 303.5 Z"/></clipPath><g clip-path="url(#sw5)"><g transform="rotate(24 360 200)" filter="url(#jetf)"><g transform="rotate(-24 360 200)"><rect x="280" y="80" width="90" height="20" fill="#5c5c5c"/><rect x="370" y="80" width="10" height="20" fill="#4a4a4a"/><rect x="380" y="80" width="10" height="20" fill="#212121"/><rect x="390" y="80" width="10" height="20" fill="#0f0f0f"/><rect x="400" y="80" width="10" height="20" fill="#363636"/><rect x="410" y="80" width="10" height="20" fill="#7d7d7d"/><rect x="420" y="80" width="10" height="20" fill="#6e6e6e"/><rect x="430" y="80" width="20" height="20" fill="#5c5c5c"/><rect x="280" y="100" width="100" height="10" fill="#5c5c5c"/><rect x="380" y="100" width="10" height="10" fill="#363636"/><rect x="390" y="100" width="10" height="10" fill="#0f0f0f"/><rect x="400" y="100" width="10" height="10" fill="#212121"/><rect x="410" y="100" width="10" height="10" fill="#8f8f8f"/><rect x="420" y="100" width="30" height="10" fill="#5c5c5c"/><rect x="280" y="110" width="40" height="10" fill="#4a4a4a"/><rect x="320" y="110" width="10" height="10" fill="#5c5c5c"/><rect x="330" y="110" width="10" height="10" fill="#6e6e6e"/><rect x="340" y="110" width="40" height="10" fill="#5c5c5c"/><rect x="380" y="110" width="10" height="10" fill="#4a4a4a"/><rect x="390" y="110" width="10" height="10" fill="#212121"/><rect x="400" y="110" width="10" height="10" fill="#0f0f0f"/><rect x="410" y="110" width="10" height="10" fill="#4a4a4a"/><rect x="420" y="110" width="10" height="10" fill="#8f8f8f"/><rect x="430" y="110" width="20" height="10" fill="#5c5c5c"/><rect x="280" y="120" width="50" height="10" fill="#363636"/><rect x="330" y="120" width="10" height="10" fill="#4a4a4a"/><rect x="340" y="120" width="10" height="10" fill="#363636"/><rect x="350" y="120" width="20" height="10" fill="#5c5c5c"/><rect x="370" y="120" width="10" height="10" fill="#7d7d7d"/><rect x="380" y="120" width="10" height="10" fill="#6e6e6e"/><rect x="390" y="120" width="10" height="10" fill="#4a4a4a"/><rect x="400" y="120" width="10" height="10" fill="#363636"/><rect x="410" y="120" width="10" height="10" fill="#0f0f0f"/><rect x="420" y="120" width="10" height="10" fill="#4a4a4a"/><rect x="430" y="120" width="20" height="10" fill="#363636"/><rect x="280" y="130" width="40" height="10" fill="#363636"/><rect x="320" y="130" width="10" height="10" fill="#4a4a4a"/><rect x="330" y="130" width="10" height="10" fill="#8f8f8f"/><rect x="340" y="130" width="10" height="10" fill="#4a4a4a"/><rect x="350" y="130" width="10" height="10" fill="#363636"/><rect x="360" y="130" width="20" height="10" fill="#5c5c5c"/><rect x="380" y="130" width="20" height="10" fill="#6e6e6e"/><rect x="400" y="130" width="10" height="10" fill="#4a4a4a"/><rect x="410" y="130" width="40" height="10" fill="#363636"/><rect x="280" y="140" width="50" height="10" fill="#363636"/><rect x="330" y="140" width="10" height="10" fill="#4a4a4a"/><rect x="340" y="140" width="10" height="10" fill="#5c5c5c"/><rect x="350" y="140" width="10" height="10" fill="#4a4a4a"/><rect x="360" y="140" width="20" height="10" fill="#363636"/><rect x="380" y="140" width="30" height="10" fill="#6e6e6e"/><rect x="410" y="140" width="10" height="10" fill="#5c5c5c"/><rect x="420" y="140" width="10" height="10" fill="#363636"/><rect x="430" y="140" width="20" height="10" fill="#212121"/><rect x="280" y="150" width="40" height="10" fill="#363636"/><rect x="320" y="150" width="10" height="10" fill="#4a4a4a"/><rect x="330" y="150" width="10" height="10" fill="#6e6e6e"/><rect x="340" y="150" width="10" height="10" fill="#5c5c5c"/><rect x="350" y="150" width="10" height="10" fill="#8f8f8f"/><rect x="360" y="150" width="10" height="10" fill="#4a4a4a"/><rect x="370" y="150" width="10" height="10" fill="#363636"/><rect x="380" y="150" width="30" height="10" fill="#6e6e6e"/><rect x="410" y="150" width="10" height="10" fill="#4a4a4a"/><rect x="420" y="150" width="10" height="10" fill="#6e6e6e"/><rect x="430" y="150" width="20" height="10" fill="#363636"/><rect x="280" y="160" width="40" height="10" fill="#0f0f0f"/><rect x="320" y="160" width="10" height="10" fill="#363636"/><rect x="330" y="160" width="10" height="10" fill="#4a4a4a"/><rect x="340" y="160" width="10" height="10" fill="#a1a1a1"/><rect x="350" y="160" width="10" height="10" fill="#5c5c5c"/><rect x="360" y="160" width="10" height="10" fill="#363636"/><rect x="370" y="160" width="10" height="10" fill="#212121"/><rect x="380" y="160" width="10" height="10" fill="#6e6e6e"/><rect x="390" y="160" width="10" height="10" fill="#7d7d7d"/><rect x="400" y="160" width="10" height="10" fill="#4a4a4a"/><rect x="410" y="160" width="10" height="10" fill="#6e6e6e"/><rect x="420" y="160" width="10" height="10" fill="#5c5c5c"/><rect x="430" y="160" width="20" height="10" fill="#4a4a4a"/><rect x="280" y="170" width="30" height="10" fill="#6e6e6e"/><rect x="310" y="170" width="10" height="10" fill="#5c5c5c"/><rect x="320" y="170" width="10" height="10" fill="#6e6e6e"/><rect x="330" y="170" width="10" height="10" fill="#5c5c5c"/><rect x="340" y="170" width="10" height="10" fill="#8f8f8f"/><rect x="350" y="170" width="10" height="10" fill="#6e6e6e"/><rect x="360" y="170" width="40" height="10" fill="#363636"/><rect x="400" y="170" width="10" height="10" fill="#4a4a4a"/><rect x="410" y="170" width="20" height="10" fill="#5c5c5c"/><rect x="430" y="170" width="20" height="10" fill="#4a4a4a"/><rect x="280" y="180" width="50" height="10" fill="#363636"/><rect x="330" y="180" width="10" height="10" fill="#212121"/><rect x="340" y="180" width="10" height="10" fill="#4a4a4a"/><rect x="350" y="180" width="20" height="10" fill="#6e6e6e"/><rect x="370" y="180" width="20" height="10" fill="#212121"/><rect x="390" y="180" width="10" height="10" fill="#0f0f0f"/><rect x="400" y="180" width="50" height="10" fill="#363636"/><rect x="280" y="190" width="50" height="10" fill="#363636"/><rect x="330" y="190" width="20" height="10" fill="#212121"/><rect x="350" y="190" width="10" height="10" fill="#5c5c5c"/><rect x="360" y="190" width="10" height="10" fill="#212121"/><rect x="370" y="190" width="10" height="10" fill="#4a4a4a"/><rect x="380" y="190" width="70" height="10" fill="#212121"/><rect x="280" y="200" width="30" height="10" fill="#a1a1a1"/><rect x="310" y="200" width="40" height="10" fill="#363636"/><rect x="350" y="200" width="40" height="10" fill="#0f0f0f"/><rect x="390" y="200" width="20" height="10" fill="#212121"/><rect x="410" y="200" width="10" height="10" fill="#0f0f0f"/><rect x="420" y="200" width="30" height="10" fill="#212121"/><rect x="280" y="210" width="30" height="10" fill="#a1a1a1"/><rect x="310" y="210" width="10" height="10" fill="#7d7d7d"/><rect x="320" y="210" width="20" height="10" fill="#6e6e6e"/><rect x="340" y="210" width="10" height="10" fill="#5c5c5c"/><rect x="350" y="210" width="10" height="10" fill="#363636"/><rect x="360" y="210" width="10" height="10" fill="#8f8f8f"/><rect x="370" y="210" width="10" height="10" fill="#212121"/><rect x="380" y="210" width="10" height="10" fill="#0f0f0f"/><rect x="390" y="210" width="60" height="10" fill="#212121"/><rect x="280" y="220" width="30" height="10" fill="#b2b2b2"/><rect x="310" y="220" width="10" height="10" fill="#7d7d7d"/><rect x="320" y="220" width="10" height="10" fill="#8f8f8f"/><rect x="330" y="220" width="10" height="10" fill="#6e6e6e"/><rect x="340" y="220" width="10" height="10" fill="#5c5c5c"/><rect x="350" y="220" width="10" height="10" fill="#363636"/><rect x="360" y="220" width="10" height="10" fill="#4a4a4a"/><rect x="370" y="220" width="20" height="10" fill="#5c5c5c"/><rect x="390" y="220" width="20" height="10" fill="#363636"/><rect x="410" y="220" width="40" height="10" fill="#212121"/><rect x="280" y="230" width="30" height="10" fill="#4a4a4a"/><rect x="310" y="230" width="10" height="10" fill="#6e6e6e"/><rect x="320" y="230" width="10" height="10" fill="#7d7d7d"/><rect x="330" y="230" width="20" height="10" fill="#5c5c5c"/><rect x="350" y="230" width="20" height="10" fill="#4a4a4a"/><rect x="370" y="230" width="10" height="10" fill="#5c5c5c"/><rect x="380" y="230" width="10" height="10" fill="#4a4a4a"/><rect x="390" y="230" width="20" height="10" fill="#363636"/><rect x="410" y="230" width="40" height="10" fill="#212121"/><rect x="280" y="240" width="40" height="10" fill="#5c5c5c"/><rect x="320" y="240" width="10" height="10" fill="#6e6e6e"/><rect x="330" y="240" width="20" height="10" fill="#4a4a4a"/><rect x="350" y="240" width="10" height="10" fill="#8f8f8f"/><rect x="360" y="240" width="10" height="10" fill="#5c5c5c"/><rect x="370" y="240" width="10" height="10" fill="#212121"/><rect x="380" y="240" width="70" height="10" fill="#0f0f0f"/><rect x="280" y="250" width="50" height="10" fill="#0f0f0f"/><rect x="330" y="250" width="20" height="10" fill="#212121"/><rect x="350" y="250" width="20" height="10" fill="#0f0f0f"/><rect x="370" y="250" width="20" height="10" fill="#212121"/><rect x="390" y="250" width="10" height="10" fill="#0f0f0f"/><rect x="400" y="250" width="20" height="10" fill="#212121"/><rect x="420" y="250" width="10" height="10" fill="#363636"/><rect x="430" y="250" width="20" height="10" fill="#0f0f0f"/><rect x="280" y="260" width="100" height="10" fill="#0f0f0f"/><rect x="380" y="260" width="10" height="10" fill="#4a4a4a"/><rect x="390" y="260" width="10" height="10" fill="#5c5c5c"/><rect x="400" y="260" width="10" height="10" fill="#4a4a4a"/><rect x="410" y="260" width="10" height="10" fill="#363636"/><rect x="420" y="260" width="10" height="10" fill="#4a4a4a"/><rect x="430" y="260" width="20" height="10" fill="#5c5c5c"/><rect x="280" y="270" width="90" height="10" fill="#0f0f0f"/><rect x="370" y="270" width="20" height="10" fill="#212121"/><rect x="390" y="270" width="10" height="10" fill="#363636"/><rect x="400" y="270" width="20" height="10" fill="#5c5c5c"/><rect x="420" y="270" width="10" height="10" fill="#6e6e6e"/><rect x="430" y="270" width="20" height="10" fill="#a1a1a1"/><rect x="280" y="280" width="50" height="10" fill="#0f0f0f"/><rect x="330" y="280" width="10" height="10" fill="#6e6e6e"/><rect x="340" y="280" width="10" height="10" fill="#212121"/><rect x="350" y="280" width="30" height="10" fill="#0f0f0f"/><rect x="380" y="280" width="20" height="10" fill="#212121"/><rect x="400" y="280" width="50" height="10" fill="#0f0f0f"/><rect x="280" y="290" width="20" height="10" fill="#0f0f0f"/><rect x="300" y="290" width="10" height="10" fill="#363636"/><rect x="310" y="290" width="10" height="10" fill="#5c5c5c"/><rect x="320" y="290" width="10" height="10" fill="#4a4a4a"/><rect x="330" y="290" width="10" height="10" fill="#212121"/><rect x="340" y="290" width="50" height="10" fill="#0f0f0f"/><rect x="390" y="290" width="30" height="10" fill="#212121"/><rect x="420" y="290" width="30" height="10" fill="#0f0f0f"/><rect x="280" y="300" width="20" height="10" fill="#0f0f0f"/><rect x="300" y="300" width="10" height="10" fill="#a1a1a1"/><rect x="310" y="300" width="10" height="10" fill="#7d7d7d"/><rect x="320" y="300" width="10" height="10" fill="#4a4a4a"/><rect x="330" y="300" width="10" height="10" fill="#0f0f0f"/><rect x="340" y="300" width="10" height="10" fill="#212121"/><rect x="350" y="300" width="100" height="10" fill="#0f0f0f"/><rect x="280" y="310" width="20" height="20" fill="#0f0f0f"/><rect x="300" y="310" width="10" height="20" fill="#a1a1a1"/><rect x="310" y="310" width="10" height="20" fill="#7d7d7d"/><rect x="320" y="310" width="10" height="20" fill="#4a4a4a"/><rect x="330" y="310" width="10" height="20" fill="#0f0f0f"/><rect x="340" y="310" width="10" height="20" fill="#212121"/><rect x="350" y="310" width="100" height="20" fill="#0f0f0f"/></g></g></g><path d="M300 85 L359 85 L360 102 L366 115 L372 123 L373 132 L380 140 L383 147 L386 154 L376 154 L370 142 L360 136 L350 127 L346 123 L337 114 L330 110 L300 110 Z" fill="#fff"/><path d="M300 161 L337 161 L337 181 L322 183 L322 200 L300 200 Z" fill="#fff"/><path d="M305 203 L347 203 L347 214 L305 214 Z" fill="#fff"/><line x1="296" y1="96.5" x2="360" y2="96.5" stroke="#000" stroke-width="1"/><g clip-path="url(#sw5)"><g filter="url(#jetd)"><ellipse cx="313" cy="167" rx="3.5" ry="3" fill="#0f0f0f"/><ellipse cx="312" cy="180" rx="4" ry="4.5" fill="#6e6e6e"/><ellipse cx="324" cy="177" rx="3" ry="3.5" fill="#6e6e6e"/><ellipse cx="313" cy="209" rx="5" ry="3.5" fill="#a1a1a1"/><ellipse cx="428" cy="274" rx="4" ry="4" fill="#a1a1a1"/><ellipse cx="309" cy="300" rx="6" ry="4" fill="#a1a1a1"/><ellipse cx="336" cy="288" rx="5" ry="3.5" fill="#7d7d7d"/><ellipse cx="318" cy="107" rx="3" ry="2.5" fill="#6e6e6e"/></g></g><g clip-path="url(#boxclip)"><use href="#borders"/></g><text x="242.9" y="75" font-size="13.6" font-weight="bold" fill="#262626" text-anchor="end" textLength="26.1" lengthAdjust="spacingAndGlyphs">100</text><circle cx="246.2" cy="62.7" r="1.6" fill="none" stroke="#262626" stroke-width="1.05"/><text x="254.4" y="75" font-size="13.6" font-weight="bold" fill="#262626" textLength="13.8" lengthAdjust="spacingAndGlyphs">W</text><text x="303.3" y="75" font-size="13.6" font-weight="bold" fill="#262626" text-anchor="end" textLength="17.8" lengthAdjust="spacingAndGlyphs">90</text><circle cx="306.6" cy="62.7" r="1.6" fill="none" stroke="#262626" stroke-width="1.05"/><text x="314.8" y="75" font-size="13.6" font-weight="bold" fill="#262626" textLength="13.8" lengthAdjust="spacingAndGlyphs">W</text><text x="367" y="75" font-size="13.6" font-weight="bold" fill="#262626" text-anchor="end" textLength="17.8" lengthAdjust="spacingAndGlyphs">80</text><circle cx="370.3" cy="62.7" r="1.6" fill="none" stroke="#262626" stroke-width="1.05"/><text x="378.5" y="75" font-size="13.6" font-weight="bold" fill="#262626" textLength="13.8" lengthAdjust="spacingAndGlyphs">W</text><text x="430.7" y="75" font-size="13.6" font-weight="bold" fill="#262626" text-anchor="end" textLength="17.8" lengthAdjust="spacingAndGlyphs">70</text><circle cx="434" cy="62.7" r="1.6" fill="none" stroke="#262626" stroke-width="1.05"/><text x="442.2" y="75" font-size="13.6" font-weight="bold" fill="#262626" textLength="13.8" lengthAdjust="spacingAndGlyphs">W</text><text x="164" y="112.7" font-size="13.2" font-weight="bold" fill="#262626" text-anchor="end" textLength="17.4" lengthAdjust="spacingAndGlyphs">48</text><circle cx="168.2" cy="99.5" r="1.6" fill="none" stroke="#262626" stroke-width="1.05"/><text x="175.3" y="112.7" font-size="13.2" font-weight="bold" fill="#262626" textLength="10.4" lengthAdjust="spacingAndGlyphs">N</text><text x="164" y="131.2" font-size="13.2" font-weight="bold" fill="#262626" text-anchor="end" textLength="17.4" lengthAdjust="spacingAndGlyphs">46</text><circle cx="168.2" cy="118" r="1.6" fill="none" stroke="#262626" stroke-width="1.05"/><text x="175.3" y="131.2" font-size="13.2" font-weight="bold" fill="#262626" textLength="10.4" lengthAdjust="spacingAndGlyphs">N</text><text x="164" y="149" font-size="13.2" font-weight="bold" fill="#262626" text-anchor="end" textLength="17.4" lengthAdjust="spacingAndGlyphs">44</text><circle cx="168.2" cy="135.8" r="1.6" fill="none" stroke="#262626" stroke-width="1.05"/><text x="175.3" y="149" font-size="13.2" font-weight="bold" fill="#262626" textLength="10.4" lengthAdjust="spacingAndGlyphs">N</text><text x="164" y="166.2" font-size="13.2" font-weight="bold" fill="#262626" text-anchor="end" textLength="17.4" lengthAdjust="spacingAndGlyphs">42</text><circle cx="168.2" cy="153" r="1.6" fill="none" stroke="#262626" stroke-width="1.05"/><text x="175.3" y="166.2" font-size="13.2" font-weight="bold" fill="#262626" textLength="10.4" lengthAdjust="spacingAndGlyphs">N</text><text x="164" y="182.9" font-size="13.2" font-weight="bold" fill="#262626" text-anchor="end" textLength="17.4" lengthAdjust="spacingAndGlyphs">40</text><circle cx="168.2" cy="169.7" r="1.6" fill="none" stroke="#262626" stroke-width="1.05"/><text x="175.3" y="182.9" font-size="13.2" font-weight="bold" fill="#262626" textLength="10.4" lengthAdjust="spacingAndGlyphs">N</text><text x="164" y="199.2" font-size="13.2" font-weight="bold" fill="#262626" text-anchor="end" textLength="17.4" lengthAdjust="spacingAndGlyphs">38</text><circle cx="168.2" cy="186" r="1.6" fill="none" stroke="#262626" stroke-width="1.05"/><text x="175.3" y="199.2" font-size="13.2" font-weight="bold" fill="#262626" textLength="10.4" lengthAdjust="spacingAndGlyphs">N</text><text x="164" y="214.9" font-size="13.2" font-weight="bold" fill="#262626" text-anchor="end" textLength="17.4" lengthAdjust="spacingAndGlyphs">36</text><circle cx="168.2" cy="201.7" r="1.6" fill="none" stroke="#262626" stroke-width="1.05"/><text x="175.3" y="214.9" font-size="13.2" font-weight="bold" fill="#262626" textLength="10.4" lengthAdjust="spacingAndGlyphs">N</text><text x="164" y="230.3" font-size="13.2" font-weight="bold" fill="#262626" text-anchor="end" textLength="17.4" lengthAdjust="spacingAndGlyphs">34</text><circle cx="168.2" cy="217.1" r="1.6" fill="none" stroke="#262626" stroke-width="1.05"/><text x="175.3" y="230.3" font-size="13.2" font-weight="bold" fill="#262626" textLength="10.4" lengthAdjust="spacingAndGlyphs">N</text><text x="164" y="245.4" font-size="13.2" font-weight="bold" fill="#262626" text-anchor="end" textLength="17.4" lengthAdjust="spacingAndGlyphs">32</text><circle cx="168.2" cy="232.2" r="1.6" fill="none" stroke="#262626" stroke-width="1.05"/><text x="175.3" y="245.4" font-size="13.2" font-weight="bold" fill="#262626" textLength="10.4" lengthAdjust="spacingAndGlyphs">N</text><text x="164" y="260.1" font-size="13.2" font-weight="bold" fill="#262626" text-anchor="end" textLength="17.4" lengthAdjust="spacingAndGlyphs">30</text><circle cx="168.2" cy="246.9" r="1.6" fill="none" stroke="#262626" stroke-width="1.05"/><text x="175.3" y="260.1" font-size="13.2" font-weight="bold" fill="#262626" textLength="10.4" lengthAdjust="spacingAndGlyphs">N</text><text x="164" y="274.5" font-size="13.2" font-weight="bold" fill="#262626" text-anchor="end" textLength="17.4" lengthAdjust="spacingAndGlyphs">28</text><circle cx="168.2" cy="261.3" r="1.6" fill="none" stroke="#262626" stroke-width="1.05"/><text x="175.3" y="274.5" font-size="13.2" font-weight="bold" fill="#262626" textLength="10.4" lengthAdjust="spacingAndGlyphs">N</text><text x="164" y="288.6" font-size="13.2" font-weight="bold" fill="#262626" text-anchor="end" textLength="17.4" lengthAdjust="spacingAndGlyphs">26</text><circle cx="168.2" cy="275.4" r="1.6" fill="none" stroke="#262626" stroke-width="1.05"/><text x="175.3" y="288.6" font-size="13.2" font-weight="bold" fill="#262626" textLength="10.4" lengthAdjust="spacingAndGlyphs">N</text><text x="164" y="302.5" font-size="13.2" font-weight="bold" fill="#262626" text-anchor="end" textLength="17.4" lengthAdjust="spacingAndGlyphs">24</text><circle cx="168.2" cy="289.3" r="1.6" fill="none" stroke="#262626" stroke-width="1.05"/><text x="175.3" y="302.5" font-size="13.2" font-weight="bold" fill="#262626" textLength="10.4" lengthAdjust="spacingAndGlyphs">N</text><text x="164" y="316.2" font-size="13.2" font-weight="bold" fill="#262626" text-anchor="end" textLength="17.4" lengthAdjust="spacingAndGlyphs">22</text><circle cx="168.2" cy="303" r="1.6" fill="none" stroke="#262626" stroke-width="1.05"/><text x="175.3" y="316.2" font-size="13.2" font-weight="bold" fill="#262626" textLength="10.4" lengthAdjust="spacingAndGlyphs">N</text><g transform="translate(2.3,0)"><rect x="441.5" y="95.5" width="23" height="215" fill="url(#jet)" stroke="#262626" stroke-width="1"/><line x1="461" y1="95.5" x2="464.5" y2="95.5" stroke="#262626" stroke-width="1"/><line x1="461" y1="203.5" x2="464.5" y2="203.5" stroke="#262626" stroke-width="1"/><line x1="461" y1="310.5" x2="464.5" y2="310.5" stroke="#262626" stroke-width="1"/><text x="473.5" y="102.9" font-size="21.5" font-weight="bold" fill="#262626" textLength="42.5" lengthAdjust="spacingAndGlyphs">100</text><text x="473.5" y="210.2" font-size="21.5" font-weight="bold" fill="#262626" textLength="27.8" lengthAdjust="spacingAndGlyphs">50</text><text x="473.5" y="318" font-size="21.5" font-weight="bold" fill="#262626" textLength="13.9" lengthAdjust="spacingAndGlyphs">0</text></g><text x="140.5" y="340.9" font-size="23.5" font-weight="bold" fill="#262626" textLength="334.5" lengthAdjust="spacingAndGlyphs">SAT 400 hPa RH (Percent)</text></g></svg></body></html>
